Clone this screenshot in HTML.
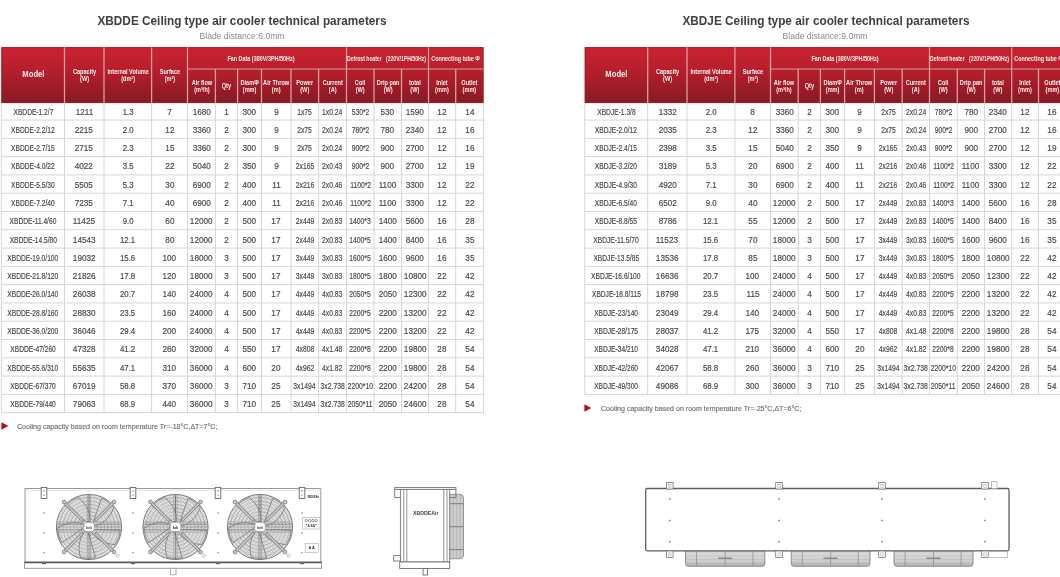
<!DOCTYPE html><html><head><meta charset="utf-8"><style>
*{margin:0;padding:0;box-sizing:border-box}
html,body{width:1060px;height:577px;overflow:hidden;background:#fff}
body{position:relative;font-family:"Liberation Sans",sans-serif}
#wrap{position:absolute;left:0;top:0;width:1060px;height:577px;overflow:hidden;background:#fff;will-change:transform}
.title{position:absolute;font-weight:bold;color:#404040;font-size:12.5px;transform:scaleX(0.9435);white-space:nowrap;text-align:center;line-height:1}
.sub{position:absolute;color:#8a8a8a;font-size:8.6px;white-space:nowrap;text-align:center;line-height:1}
.hc,.dc{position:absolute;display:flex;align-items:center;justify-content:center;text-align:center;white-space:nowrap}
.hc span{display:inline-block;color:#fbeeee;font-weight:bold;font-size:6.5px;line-height:7.2px;transform:scaleX(0.86)}
.hc.big span{font-size:8.6px;transform:translateY(-0.3px) scaleX(0.89)}
.hc.top span{font-size:6.8px}
.dc span{display:inline-block;color:#4a4a4a;font-size:8.8px;line-height:1;-webkit-text-stroke:0.18px #4a4a4a}
.dc.m span{transform:scaleX(0.74)}
.note{position:absolute;color:#727272;-webkit-text-stroke:0.15px #727272;font-size:7.07px;white-space:nowrap;line-height:1}
.tri{position:absolute;width:0;height:0;border-top:3.6px solid transparent;border-bottom:3.6px solid transparent;border-left:6.8px solid #c0181f}
</style></head><body><div id="wrap">
<div class="title" style="left:41.5px;top:15px;width:400px">XBDDE Ceiling type air cooler technical parameters</div>
<div class="sub" style="left:199px;top:31.5px;width:86px">Blade distance:6.0mm</div>
<div class="title" style="left:625.5px;top:15px;width:400px">XBDJE Ceiling type air cooler technical parameters</div>
<div class="sub" style="left:782px;top:31.5px;width:86px">Blade distance:9.0mm</div>
<svg class="grid" width="1060" height="577" style="position:absolute;left:0;top:0"><defs><linearGradient id="gL" x1="0" y1="0" x2="0" y2="1"><stop offset="0" stop-color="#cc2230"/><stop offset="0.45" stop-color="#b41e2c"/><stop offset="1" stop-color="#861a21"/></linearGradient></defs><line x1="1.4" y1="103" x2="483.5" y2="103" stroke="#d6d6d6" stroke-width="1"/><line x1="1.4" y1="120.05" x2="483.5" y2="120.05" stroke="#d6d6d6" stroke-width="1"/><line x1="1.4" y1="138.34" x2="483.5" y2="138.34" stroke="#d6d6d6" stroke-width="1"/><line x1="1.4" y1="156.63" x2="483.5" y2="156.63" stroke="#d6d6d6" stroke-width="1"/><line x1="1.4" y1="174.92" x2="483.5" y2="174.92" stroke="#d6d6d6" stroke-width="1"/><line x1="1.4" y1="193.21" x2="483.5" y2="193.21" stroke="#d6d6d6" stroke-width="1"/><line x1="1.4" y1="211.5" x2="483.5" y2="211.5" stroke="#d6d6d6" stroke-width="1"/><line x1="1.4" y1="229.79" x2="483.5" y2="229.79" stroke="#d6d6d6" stroke-width="1"/><line x1="1.4" y1="248.08" x2="483.5" y2="248.08" stroke="#d6d6d6" stroke-width="1"/><line x1="1.4" y1="266.37" x2="483.5" y2="266.37" stroke="#d6d6d6" stroke-width="1"/><line x1="1.4" y1="284.66" x2="483.5" y2="284.66" stroke="#d6d6d6" stroke-width="1"/><line x1="1.4" y1="302.95" x2="483.5" y2="302.95" stroke="#d6d6d6" stroke-width="1"/><line x1="1.4" y1="321.24" x2="483.5" y2="321.24" stroke="#d6d6d6" stroke-width="1"/><line x1="1.4" y1="339.53" x2="483.5" y2="339.53" stroke="#d6d6d6" stroke-width="1"/><line x1="1.4" y1="357.82" x2="483.5" y2="357.82" stroke="#d6d6d6" stroke-width="1"/><line x1="1.4" y1="376.11" x2="483.5" y2="376.11" stroke="#d6d6d6" stroke-width="1"/><line x1="1.4" y1="394.4" x2="483.5" y2="394.4" stroke="#d6d6d6" stroke-width="1"/><line x1="1.4" y1="412.69" x2="483.5" y2="412.69" stroke="#d6d6d6" stroke-width="1"/><line x1="1.4" y1="103" x2="1.4" y2="412.69" stroke="#d6d6d6" stroke-width="1"/><line x1="64.5" y1="103" x2="64.5" y2="412.69" stroke="#d6d6d6" stroke-width="1"/><line x1="104" y1="103" x2="104" y2="412.69" stroke="#d6d6d6" stroke-width="1"/><line x1="151.6" y1="103" x2="151.6" y2="412.69" stroke="#d6d6d6" stroke-width="1"/><line x1="187.5" y1="103" x2="187.5" y2="412.69" stroke="#d6d6d6" stroke-width="1"/><line x1="215.4" y1="103" x2="215.4" y2="412.69" stroke="#d6d6d6" stroke-width="1"/><line x1="237.6" y1="103" x2="237.6" y2="412.69" stroke="#d6d6d6" stroke-width="1"/><line x1="261.5" y1="103" x2="261.5" y2="412.69" stroke="#d6d6d6" stroke-width="1"/><line x1="291" y1="103" x2="291" y2="412.69" stroke="#d6d6d6" stroke-width="1"/><line x1="318.6" y1="103" x2="318.6" y2="412.69" stroke="#d6d6d6" stroke-width="1"/><line x1="346.5" y1="103" x2="346.5" y2="412.69" stroke="#d6d6d6" stroke-width="1"/><line x1="374" y1="103" x2="374" y2="412.69" stroke="#d6d6d6" stroke-width="1"/><line x1="401.5" y1="103" x2="401.5" y2="412.69" stroke="#d6d6d6" stroke-width="1"/><line x1="428.5" y1="103" x2="428.5" y2="412.69" stroke="#d6d6d6" stroke-width="1"/><line x1="455.7" y1="103" x2="455.7" y2="412.69" stroke="#d6d6d6" stroke-width="1"/><line x1="483.5" y1="103" x2="483.5" y2="412.69" stroke="#d6d6d6" stroke-width="1"/><rect x="1.4" y="47.2" width="482.1" height="55.8" fill="url(#gL)"/><rect x="1.9" y="47.7" width="481.1" height="54.8" fill="none" stroke="#a31c27" stroke-width="1"/><line x1="64.5" y1="47.2" x2="64.5" y2="103" stroke="#df9ba0" stroke-width="1.3"/><line x1="104" y1="47.2" x2="104" y2="103" stroke="#df9ba0" stroke-width="1.3"/><line x1="151.6" y1="47.2" x2="151.6" y2="103" stroke="#df9ba0" stroke-width="1.3"/><line x1="187.5" y1="47.2" x2="187.5" y2="103" stroke="#df9ba0" stroke-width="1.3"/><line x1="346.5" y1="47.2" x2="346.5" y2="103" stroke="#df9ba0" stroke-width="1.3"/><line x1="428.5" y1="47.2" x2="428.5" y2="103" stroke="#df9ba0" stroke-width="1.3"/><line x1="215.4" y1="69" x2="215.4" y2="103" stroke="#df9ba0" stroke-width="1.3"/><line x1="237.6" y1="69" x2="237.6" y2="103" stroke="#df9ba0" stroke-width="1.3"/><line x1="261.5" y1="69" x2="261.5" y2="103" stroke="#df9ba0" stroke-width="1.3"/><line x1="291" y1="69" x2="291" y2="103" stroke="#df9ba0" stroke-width="1.3"/><line x1="318.6" y1="69" x2="318.6" y2="103" stroke="#df9ba0" stroke-width="1.3"/><line x1="374" y1="69" x2="374" y2="103" stroke="#df9ba0" stroke-width="1.3"/><line x1="401.5" y1="69" x2="401.5" y2="103" stroke="#df9ba0" stroke-width="1.3"/><line x1="455.7" y1="69" x2="455.7" y2="103" stroke="#df9ba0" stroke-width="1.3"/><line x1="187.5" y1="69" x2="483.5" y2="69" stroke="#df9ba0" stroke-width="1"/></svg>
<div class="hc big" style="left:1.4px;top:47.2px;width:63.1px;height:55.8px"><span>Model</span></div>
<div class="hc" style="left:64.5px;top:47.2px;width:39.5px;height:55.8px"><span>Capacity<br>(W)</span></div>
<div class="hc" style="left:104px;top:47.2px;width:47.6px;height:55.8px"><span>Internal Volume<br>(dm³)</span></div>
<div class="hc" style="left:151.6px;top:47.2px;width:35.9px;height:55.8px"><span>Surface<br>(m²)</span></div>
<div class="hc top" style="left:181.8px;top:47.2px;width:159px;height:21.8px"><span style="transform:translateY(1px) scaleX(0.8)">Fan Data (380V/3PH/50Hz)</span></div>
<div class="hc top" style="left:345.5px;top:47.2px;width:82px;height:21.8px"><span style="transform:translateY(1px) scaleX(0.752)">Defrost heater&nbsp;&nbsp;&nbsp;(220V/1PH/50Hz)</span></div>
<div class="hc top" style="left:428px;top:47.2px;width:55px;height:21.8px"><span style="transform:translateY(1px) scaleX(0.794)">Connecting tube Φ</span></div>
<div class="hc" style="left:187.5px;top:69px;width:27.9px;height:34px"><span>Air flow<br>(m³/h)</span></div>
<div class="hc" style="left:215.4px;top:69px;width:22.2px;height:34px"><span>Qty</span></div>
<div class="hc" style="left:237.6px;top:69px;width:23.9px;height:34px"><span>DiamΦ<br>(mm)</span></div>
<div class="hc" style="left:261.5px;top:69px;width:29.5px;height:34px"><span>Air Throw<br>(m)</span></div>
<div class="hc" style="left:291px;top:69px;width:27.6px;height:34px"><span>Power<br>(W)</span></div>
<div class="hc" style="left:318.6px;top:69px;width:27.9px;height:34px"><span>Current<br>(A)</span></div>
<div class="hc" style="left:346.5px;top:69px;width:27.5px;height:34px"><span>Coil<br>(W)</span></div>
<div class="hc" style="left:374px;top:69px;width:27.5px;height:34px"><span>Drip pan<br>(W)</span></div>
<div class="hc" style="left:401.5px;top:69px;width:27px;height:34px"><span>total<br>(W)</span></div>
<div class="hc" style="left:428.5px;top:69px;width:27.2px;height:34px"><span>Inlet<br>(mm)</span></div>
<div class="hc" style="left:455.7px;top:69px;width:27.8px;height:34px"><span>Outlet<br>(mm)</span></div>
<div class="dc" style="left:1.4px;top:103px;width:63.1px;height:17.05px"><span style="transform:translateY(0.75px) scaleX(0.755)">XBDDE-1.2/7</span></div>
<div class="dc" style="left:64.5px;top:103px;width:39.5px;height:17.05px"><span style="transform:translateY(0.75px) scaleX(0.93)">1211</span></div>
<div class="dc" style="left:104px;top:103px;width:47.6px;height:17.05px"><span style="transform:translateY(0.75px) scaleX(0.89)">1.3</span></div>
<div class="dc" style="left:151.6px;top:103px;width:35.9px;height:17.05px"><span style="transform:translateY(0.75px) scaleX(0.93)">7</span></div>
<div class="dc" style="left:187.5px;top:103px;width:27.9px;height:17.05px"><span style="transform:translateY(0.75px) scaleX(0.93)">1680</span></div>
<div class="dc" style="left:215.4px;top:103px;width:22.2px;height:17.05px"><span style="transform:translateY(0.75px) scaleX(0.93)">1</span></div>
<div class="dc" style="left:237.6px;top:103px;width:23.9px;height:17.05px"><span style="transform:translateY(0.75px) scaleX(0.93)">300</span></div>
<div class="dc" style="left:261.5px;top:103px;width:29.5px;height:17.05px"><span style="transform:translateY(0.75px) scaleX(0.93)">9</span></div>
<div class="dc" style="left:291px;top:103px;width:27.6px;height:17.05px"><span style="transform:translateY(0.75px) scaleX(0.77)">1x75</span></div>
<div class="dc" style="left:318.6px;top:103px;width:27.9px;height:17.05px"><span style="transform:translateY(0.75px) scaleX(0.77)">1x0.24</span></div>
<div class="dc" style="left:346.5px;top:103px;width:27.5px;height:17.05px"><span style="transform:translateY(0.75px) scaleX(0.77)">530*2</span></div>
<div class="dc" style="left:374px;top:103px;width:27.5px;height:17.05px"><span style="transform:translateY(0.75px) scaleX(0.93)">530</span></div>
<div class="dc" style="left:401.5px;top:103px;width:27px;height:17.05px"><span style="transform:translateY(0.75px) scaleX(0.93)">1590</span></div>
<div class="dc" style="left:428.5px;top:103px;width:27.2px;height:17.05px"><span style="transform:translateY(0.75px) scaleX(0.93)">12</span></div>
<div class="dc" style="left:455.7px;top:103px;width:27.8px;height:17.05px"><span style="transform:translateY(0.75px) scaleX(0.93)">14</span></div>
<div class="dc" style="left:1.4px;top:120.05px;width:63.1px;height:18.29px"><span style="transform:translateY(0.75px) scaleX(0.755)">XBDDE-2.2/12</span></div>
<div class="dc" style="left:64.5px;top:120.05px;width:39.5px;height:18.29px"><span style="transform:translateY(0.75px) scaleX(0.93)">2215</span></div>
<div class="dc" style="left:104px;top:120.05px;width:47.6px;height:18.29px"><span style="transform:translateY(0.75px) scaleX(0.89)">2.0</span></div>
<div class="dc" style="left:151.6px;top:120.05px;width:35.9px;height:18.29px"><span style="transform:translateY(0.75px) scaleX(0.93)">12</span></div>
<div class="dc" style="left:187.5px;top:120.05px;width:27.9px;height:18.29px"><span style="transform:translateY(0.75px) scaleX(0.93)">3360</span></div>
<div class="dc" style="left:215.4px;top:120.05px;width:22.2px;height:18.29px"><span style="transform:translateY(0.75px) scaleX(0.93)">2</span></div>
<div class="dc" style="left:237.6px;top:120.05px;width:23.9px;height:18.29px"><span style="transform:translateY(0.75px) scaleX(0.93)">300</span></div>
<div class="dc" style="left:261.5px;top:120.05px;width:29.5px;height:18.29px"><span style="transform:translateY(0.75px) scaleX(0.93)">9</span></div>
<div class="dc" style="left:291px;top:120.05px;width:27.6px;height:18.29px"><span style="transform:translateY(0.75px) scaleX(0.77)">2x75</span></div>
<div class="dc" style="left:318.6px;top:120.05px;width:27.9px;height:18.29px"><span style="transform:translateY(0.75px) scaleX(0.77)">2x0.24</span></div>
<div class="dc" style="left:346.5px;top:120.05px;width:27.5px;height:18.29px"><span style="transform:translateY(0.75px) scaleX(0.77)">780*2</span></div>
<div class="dc" style="left:374px;top:120.05px;width:27.5px;height:18.29px"><span style="transform:translateY(0.75px) scaleX(0.93)">780</span></div>
<div class="dc" style="left:401.5px;top:120.05px;width:27px;height:18.29px"><span style="transform:translateY(0.75px) scaleX(0.93)">2340</span></div>
<div class="dc" style="left:428.5px;top:120.05px;width:27.2px;height:18.29px"><span style="transform:translateY(0.75px) scaleX(0.93)">12</span></div>
<div class="dc" style="left:455.7px;top:120.05px;width:27.8px;height:18.29px"><span style="transform:translateY(0.75px) scaleX(0.93)">16</span></div>
<div class="dc" style="left:1.4px;top:138.34px;width:63.1px;height:18.29px"><span style="transform:translateY(0.75px) scaleX(0.755)">XBDDE-2.7/15</span></div>
<div class="dc" style="left:64.5px;top:138.34px;width:39.5px;height:18.29px"><span style="transform:translateY(0.75px) scaleX(0.93)">2715</span></div>
<div class="dc" style="left:104px;top:138.34px;width:47.6px;height:18.29px"><span style="transform:translateY(0.75px) scaleX(0.89)">2.3</span></div>
<div class="dc" style="left:151.6px;top:138.34px;width:35.9px;height:18.29px"><span style="transform:translateY(0.75px) scaleX(0.93)">15</span></div>
<div class="dc" style="left:187.5px;top:138.34px;width:27.9px;height:18.29px"><span style="transform:translateY(0.75px) scaleX(0.93)">3360</span></div>
<div class="dc" style="left:215.4px;top:138.34px;width:22.2px;height:18.29px"><span style="transform:translateY(0.75px) scaleX(0.93)">2</span></div>
<div class="dc" style="left:237.6px;top:138.34px;width:23.9px;height:18.29px"><span style="transform:translateY(0.75px) scaleX(0.93)">300</span></div>
<div class="dc" style="left:261.5px;top:138.34px;width:29.5px;height:18.29px"><span style="transform:translateY(0.75px) scaleX(0.93)">9</span></div>
<div class="dc" style="left:291px;top:138.34px;width:27.6px;height:18.29px"><span style="transform:translateY(0.75px) scaleX(0.77)">2x75</span></div>
<div class="dc" style="left:318.6px;top:138.34px;width:27.9px;height:18.29px"><span style="transform:translateY(0.75px) scaleX(0.77)">2x0.24</span></div>
<div class="dc" style="left:346.5px;top:138.34px;width:27.5px;height:18.29px"><span style="transform:translateY(0.75px) scaleX(0.77)">900*2</span></div>
<div class="dc" style="left:374px;top:138.34px;width:27.5px;height:18.29px"><span style="transform:translateY(0.75px) scaleX(0.93)">900</span></div>
<div class="dc" style="left:401.5px;top:138.34px;width:27px;height:18.29px"><span style="transform:translateY(0.75px) scaleX(0.93)">2700</span></div>
<div class="dc" style="left:428.5px;top:138.34px;width:27.2px;height:18.29px"><span style="transform:translateY(0.75px) scaleX(0.93)">12</span></div>
<div class="dc" style="left:455.7px;top:138.34px;width:27.8px;height:18.29px"><span style="transform:translateY(0.75px) scaleX(0.93)">16</span></div>
<div class="dc" style="left:1.4px;top:156.63px;width:63.1px;height:18.29px"><span style="transform:translateY(0.75px) scaleX(0.755)">XBDDE-4.0/22</span></div>
<div class="dc" style="left:64.5px;top:156.63px;width:39.5px;height:18.29px"><span style="transform:translateY(0.75px) scaleX(0.93)">4022</span></div>
<div class="dc" style="left:104px;top:156.63px;width:47.6px;height:18.29px"><span style="transform:translateY(0.75px) scaleX(0.89)">3.5</span></div>
<div class="dc" style="left:151.6px;top:156.63px;width:35.9px;height:18.29px"><span style="transform:translateY(0.75px) scaleX(0.93)">22</span></div>
<div class="dc" style="left:187.5px;top:156.63px;width:27.9px;height:18.29px"><span style="transform:translateY(0.75px) scaleX(0.93)">5040</span></div>
<div class="dc" style="left:215.4px;top:156.63px;width:22.2px;height:18.29px"><span style="transform:translateY(0.75px) scaleX(0.93)">2</span></div>
<div class="dc" style="left:237.6px;top:156.63px;width:23.9px;height:18.29px"><span style="transform:translateY(0.75px) scaleX(0.93)">350</span></div>
<div class="dc" style="left:261.5px;top:156.63px;width:29.5px;height:18.29px"><span style="transform:translateY(0.75px) scaleX(0.93)">9</span></div>
<div class="dc" style="left:291px;top:156.63px;width:27.6px;height:18.29px"><span style="transform:translateY(0.75px) scaleX(0.77)">2x165</span></div>
<div class="dc" style="left:318.6px;top:156.63px;width:27.9px;height:18.29px"><span style="transform:translateY(0.75px) scaleX(0.77)">2x0.43</span></div>
<div class="dc" style="left:346.5px;top:156.63px;width:27.5px;height:18.29px"><span style="transform:translateY(0.75px) scaleX(0.77)">900*2</span></div>
<div class="dc" style="left:374px;top:156.63px;width:27.5px;height:18.29px"><span style="transform:translateY(0.75px) scaleX(0.93)">900</span></div>
<div class="dc" style="left:401.5px;top:156.63px;width:27px;height:18.29px"><span style="transform:translateY(0.75px) scaleX(0.93)">2700</span></div>
<div class="dc" style="left:428.5px;top:156.63px;width:27.2px;height:18.29px"><span style="transform:translateY(0.75px) scaleX(0.93)">12</span></div>
<div class="dc" style="left:455.7px;top:156.63px;width:27.8px;height:18.29px"><span style="transform:translateY(0.75px) scaleX(0.93)">19</span></div>
<div class="dc" style="left:1.4px;top:174.92px;width:63.1px;height:18.29px"><span style="transform:translateY(0.75px) scaleX(0.755)">XBDDE-5.5/30</span></div>
<div class="dc" style="left:64.5px;top:174.92px;width:39.5px;height:18.29px"><span style="transform:translateY(0.75px) scaleX(0.93)">5505</span></div>
<div class="dc" style="left:104px;top:174.92px;width:47.6px;height:18.29px"><span style="transform:translateY(0.75px) scaleX(0.89)">5.3</span></div>
<div class="dc" style="left:151.6px;top:174.92px;width:35.9px;height:18.29px"><span style="transform:translateY(0.75px) scaleX(0.93)">30</span></div>
<div class="dc" style="left:187.5px;top:174.92px;width:27.9px;height:18.29px"><span style="transform:translateY(0.75px) scaleX(0.93)">6900</span></div>
<div class="dc" style="left:215.4px;top:174.92px;width:22.2px;height:18.29px"><span style="transform:translateY(0.75px) scaleX(0.93)">2</span></div>
<div class="dc" style="left:237.6px;top:174.92px;width:23.9px;height:18.29px"><span style="transform:translateY(0.75px) scaleX(0.93)">400</span></div>
<div class="dc" style="left:261.5px;top:174.92px;width:29.5px;height:18.29px"><span style="transform:translateY(0.75px) scaleX(0.93)">11</span></div>
<div class="dc" style="left:291px;top:174.92px;width:27.6px;height:18.29px"><span style="transform:translateY(0.75px) scaleX(0.77)">2x216</span></div>
<div class="dc" style="left:318.6px;top:174.92px;width:27.9px;height:18.29px"><span style="transform:translateY(0.75px) scaleX(0.77)">2x0.46</span></div>
<div class="dc" style="left:346.5px;top:174.92px;width:27.5px;height:18.29px"><span style="transform:translateY(0.75px) scaleX(0.77)">1100*2</span></div>
<div class="dc" style="left:374px;top:174.92px;width:27.5px;height:18.29px"><span style="transform:translateY(0.75px) scaleX(0.93)">1100</span></div>
<div class="dc" style="left:401.5px;top:174.92px;width:27px;height:18.29px"><span style="transform:translateY(0.75px) scaleX(0.93)">3300</span></div>
<div class="dc" style="left:428.5px;top:174.92px;width:27.2px;height:18.29px"><span style="transform:translateY(0.75px) scaleX(0.93)">12</span></div>
<div class="dc" style="left:455.7px;top:174.92px;width:27.8px;height:18.29px"><span style="transform:translateY(0.75px) scaleX(0.93)">22</span></div>
<div class="dc" style="left:1.4px;top:193.21px;width:63.1px;height:18.29px"><span style="transform:translateY(0.75px) scaleX(0.755)">XBDDE-7.2/40</span></div>
<div class="dc" style="left:64.5px;top:193.21px;width:39.5px;height:18.29px"><span style="transform:translateY(0.75px) scaleX(0.93)">7235</span></div>
<div class="dc" style="left:104px;top:193.21px;width:47.6px;height:18.29px"><span style="transform:translateY(0.75px) scaleX(0.89)">7.1</span></div>
<div class="dc" style="left:151.6px;top:193.21px;width:35.9px;height:18.29px"><span style="transform:translateY(0.75px) scaleX(0.93)">40</span></div>
<div class="dc" style="left:187.5px;top:193.21px;width:27.9px;height:18.29px"><span style="transform:translateY(0.75px) scaleX(0.93)">6900</span></div>
<div class="dc" style="left:215.4px;top:193.21px;width:22.2px;height:18.29px"><span style="transform:translateY(0.75px) scaleX(0.93)">2</span></div>
<div class="dc" style="left:237.6px;top:193.21px;width:23.9px;height:18.29px"><span style="transform:translateY(0.75px) scaleX(0.93)">400</span></div>
<div class="dc" style="left:261.5px;top:193.21px;width:29.5px;height:18.29px"><span style="transform:translateY(0.75px) scaleX(0.93)">11</span></div>
<div class="dc" style="left:291px;top:193.21px;width:27.6px;height:18.29px"><span style="transform:translateY(0.75px) scaleX(0.77)">2x216</span></div>
<div class="dc" style="left:318.6px;top:193.21px;width:27.9px;height:18.29px"><span style="transform:translateY(0.75px) scaleX(0.77)">2x0.46</span></div>
<div class="dc" style="left:346.5px;top:193.21px;width:27.5px;height:18.29px"><span style="transform:translateY(0.75px) scaleX(0.77)">1100*2</span></div>
<div class="dc" style="left:374px;top:193.21px;width:27.5px;height:18.29px"><span style="transform:translateY(0.75px) scaleX(0.93)">1100</span></div>
<div class="dc" style="left:401.5px;top:193.21px;width:27px;height:18.29px"><span style="transform:translateY(0.75px) scaleX(0.93)">3300</span></div>
<div class="dc" style="left:428.5px;top:193.21px;width:27.2px;height:18.29px"><span style="transform:translateY(0.75px) scaleX(0.93)">12</span></div>
<div class="dc" style="left:455.7px;top:193.21px;width:27.8px;height:18.29px"><span style="transform:translateY(0.75px) scaleX(0.93)">22</span></div>
<div class="dc" style="left:1.4px;top:211.5px;width:63.1px;height:18.29px"><span style="transform:translateY(0.75px) scaleX(0.755)">XBDDE-11.4/60</span></div>
<div class="dc" style="left:64.5px;top:211.5px;width:39.5px;height:18.29px"><span style="transform:translateY(0.75px) scaleX(0.93)">11425</span></div>
<div class="dc" style="left:104px;top:211.5px;width:47.6px;height:18.29px"><span style="transform:translateY(0.75px) scaleX(0.89)">9.0</span></div>
<div class="dc" style="left:151.6px;top:211.5px;width:35.9px;height:18.29px"><span style="transform:translateY(0.75px) scaleX(0.93)">60</span></div>
<div class="dc" style="left:187.5px;top:211.5px;width:27.9px;height:18.29px"><span style="transform:translateY(0.75px) scaleX(0.93)">12000</span></div>
<div class="dc" style="left:215.4px;top:211.5px;width:22.2px;height:18.29px"><span style="transform:translateY(0.75px) scaleX(0.93)">2</span></div>
<div class="dc" style="left:237.6px;top:211.5px;width:23.9px;height:18.29px"><span style="transform:translateY(0.75px) scaleX(0.93)">500</span></div>
<div class="dc" style="left:261.5px;top:211.5px;width:29.5px;height:18.29px"><span style="transform:translateY(0.75px) scaleX(0.93)">17</span></div>
<div class="dc" style="left:291px;top:211.5px;width:27.6px;height:18.29px"><span style="transform:translateY(0.75px) scaleX(0.77)">2x449</span></div>
<div class="dc" style="left:318.6px;top:211.5px;width:27.9px;height:18.29px"><span style="transform:translateY(0.75px) scaleX(0.77)">2x0.83</span></div>
<div class="dc" style="left:346.5px;top:211.5px;width:27.5px;height:18.29px"><span style="transform:translateY(0.75px) scaleX(0.77)">1400*3</span></div>
<div class="dc" style="left:374px;top:211.5px;width:27.5px;height:18.29px"><span style="transform:translateY(0.75px) scaleX(0.93)">1400</span></div>
<div class="dc" style="left:401.5px;top:211.5px;width:27px;height:18.29px"><span style="transform:translateY(0.75px) scaleX(0.93)">5600</span></div>
<div class="dc" style="left:428.5px;top:211.5px;width:27.2px;height:18.29px"><span style="transform:translateY(0.75px) scaleX(0.93)">16</span></div>
<div class="dc" style="left:455.7px;top:211.5px;width:27.8px;height:18.29px"><span style="transform:translateY(0.75px) scaleX(0.93)">28</span></div>
<div class="dc" style="left:1.4px;top:229.79px;width:63.1px;height:18.29px"><span style="transform:translateY(0.75px) scaleX(0.755)">XBDDE-14.5/80</span></div>
<div class="dc" style="left:64.5px;top:229.79px;width:39.5px;height:18.29px"><span style="transform:translateY(0.75px) scaleX(0.93)">14543</span></div>
<div class="dc" style="left:104px;top:229.79px;width:47.6px;height:18.29px"><span style="transform:translateY(0.75px) scaleX(0.89)">12.1</span></div>
<div class="dc" style="left:151.6px;top:229.79px;width:35.9px;height:18.29px"><span style="transform:translateY(0.75px) scaleX(0.93)">80</span></div>
<div class="dc" style="left:187.5px;top:229.79px;width:27.9px;height:18.29px"><span style="transform:translateY(0.75px) scaleX(0.93)">12000</span></div>
<div class="dc" style="left:215.4px;top:229.79px;width:22.2px;height:18.29px"><span style="transform:translateY(0.75px) scaleX(0.93)">2</span></div>
<div class="dc" style="left:237.6px;top:229.79px;width:23.9px;height:18.29px"><span style="transform:translateY(0.75px) scaleX(0.93)">500</span></div>
<div class="dc" style="left:261.5px;top:229.79px;width:29.5px;height:18.29px"><span style="transform:translateY(0.75px) scaleX(0.93)">17</span></div>
<div class="dc" style="left:291px;top:229.79px;width:27.6px;height:18.29px"><span style="transform:translateY(0.75px) scaleX(0.77)">2x449</span></div>
<div class="dc" style="left:318.6px;top:229.79px;width:27.9px;height:18.29px"><span style="transform:translateY(0.75px) scaleX(0.77)">2x0.83</span></div>
<div class="dc" style="left:346.5px;top:229.79px;width:27.5px;height:18.29px"><span style="transform:translateY(0.75px) scaleX(0.77)">1400*5</span></div>
<div class="dc" style="left:374px;top:229.79px;width:27.5px;height:18.29px"><span style="transform:translateY(0.75px) scaleX(0.93)">1400</span></div>
<div class="dc" style="left:401.5px;top:229.79px;width:27px;height:18.29px"><span style="transform:translateY(0.75px) scaleX(0.93)">8400</span></div>
<div class="dc" style="left:428.5px;top:229.79px;width:27.2px;height:18.29px"><span style="transform:translateY(0.75px) scaleX(0.93)">16</span></div>
<div class="dc" style="left:455.7px;top:229.79px;width:27.8px;height:18.29px"><span style="transform:translateY(0.75px) scaleX(0.93)">35</span></div>
<div class="dc" style="left:1.4px;top:248.08px;width:63.1px;height:18.29px"><span style="transform:translateY(0.75px) scaleX(0.755)">XBDDE-19.0/100</span></div>
<div class="dc" style="left:64.5px;top:248.08px;width:39.5px;height:18.29px"><span style="transform:translateY(0.75px) scaleX(0.93)">19032</span></div>
<div class="dc" style="left:104px;top:248.08px;width:47.6px;height:18.29px"><span style="transform:translateY(0.75px) scaleX(0.89)">15.6</span></div>
<div class="dc" style="left:151.6px;top:248.08px;width:35.9px;height:18.29px"><span style="transform:translateY(0.75px) scaleX(0.93)">100</span></div>
<div class="dc" style="left:187.5px;top:248.08px;width:27.9px;height:18.29px"><span style="transform:translateY(0.75px) scaleX(0.93)">18000</span></div>
<div class="dc" style="left:215.4px;top:248.08px;width:22.2px;height:18.29px"><span style="transform:translateY(0.75px) scaleX(0.93)">3</span></div>
<div class="dc" style="left:237.6px;top:248.08px;width:23.9px;height:18.29px"><span style="transform:translateY(0.75px) scaleX(0.93)">500</span></div>
<div class="dc" style="left:261.5px;top:248.08px;width:29.5px;height:18.29px"><span style="transform:translateY(0.75px) scaleX(0.93)">17</span></div>
<div class="dc" style="left:291px;top:248.08px;width:27.6px;height:18.29px"><span style="transform:translateY(0.75px) scaleX(0.77)">3x449</span></div>
<div class="dc" style="left:318.6px;top:248.08px;width:27.9px;height:18.29px"><span style="transform:translateY(0.75px) scaleX(0.77)">3x0.83</span></div>
<div class="dc" style="left:346.5px;top:248.08px;width:27.5px;height:18.29px"><span style="transform:translateY(0.75px) scaleX(0.77)">1600*5</span></div>
<div class="dc" style="left:374px;top:248.08px;width:27.5px;height:18.29px"><span style="transform:translateY(0.75px) scaleX(0.93)">1600</span></div>
<div class="dc" style="left:401.5px;top:248.08px;width:27px;height:18.29px"><span style="transform:translateY(0.75px) scaleX(0.93)">9600</span></div>
<div class="dc" style="left:428.5px;top:248.08px;width:27.2px;height:18.29px"><span style="transform:translateY(0.75px) scaleX(0.93)">16</span></div>
<div class="dc" style="left:455.7px;top:248.08px;width:27.8px;height:18.29px"><span style="transform:translateY(0.75px) scaleX(0.93)">35</span></div>
<div class="dc" style="left:1.4px;top:266.37px;width:63.1px;height:18.29px"><span style="transform:translateY(0.75px) scaleX(0.755)">XBDDE-21.8/120</span></div>
<div class="dc" style="left:64.5px;top:266.37px;width:39.5px;height:18.29px"><span style="transform:translateY(0.75px) scaleX(0.93)">21826</span></div>
<div class="dc" style="left:104px;top:266.37px;width:47.6px;height:18.29px"><span style="transform:translateY(0.75px) scaleX(0.89)">17.8</span></div>
<div class="dc" style="left:151.6px;top:266.37px;width:35.9px;height:18.29px"><span style="transform:translateY(0.75px) scaleX(0.93)">120</span></div>
<div class="dc" style="left:187.5px;top:266.37px;width:27.9px;height:18.29px"><span style="transform:translateY(0.75px) scaleX(0.93)">18000</span></div>
<div class="dc" style="left:215.4px;top:266.37px;width:22.2px;height:18.29px"><span style="transform:translateY(0.75px) scaleX(0.93)">3</span></div>
<div class="dc" style="left:237.6px;top:266.37px;width:23.9px;height:18.29px"><span style="transform:translateY(0.75px) scaleX(0.93)">500</span></div>
<div class="dc" style="left:261.5px;top:266.37px;width:29.5px;height:18.29px"><span style="transform:translateY(0.75px) scaleX(0.93)">17</span></div>
<div class="dc" style="left:291px;top:266.37px;width:27.6px;height:18.29px"><span style="transform:translateY(0.75px) scaleX(0.77)">3x449</span></div>
<div class="dc" style="left:318.6px;top:266.37px;width:27.9px;height:18.29px"><span style="transform:translateY(0.75px) scaleX(0.77)">3x0.83</span></div>
<div class="dc" style="left:346.5px;top:266.37px;width:27.5px;height:18.29px"><span style="transform:translateY(0.75px) scaleX(0.77)">1800*5</span></div>
<div class="dc" style="left:374px;top:266.37px;width:27.5px;height:18.29px"><span style="transform:translateY(0.75px) scaleX(0.93)">1800</span></div>
<div class="dc" style="left:401.5px;top:266.37px;width:27px;height:18.29px"><span style="transform:translateY(0.75px) scaleX(0.93)">10800</span></div>
<div class="dc" style="left:428.5px;top:266.37px;width:27.2px;height:18.29px"><span style="transform:translateY(0.75px) scaleX(0.93)">22</span></div>
<div class="dc" style="left:455.7px;top:266.37px;width:27.8px;height:18.29px"><span style="transform:translateY(0.75px) scaleX(0.93)">42</span></div>
<div class="dc" style="left:1.4px;top:284.66px;width:63.1px;height:18.29px"><span style="transform:translateY(0.75px) scaleX(0.755)">XBDDE-26.0/140</span></div>
<div class="dc" style="left:64.5px;top:284.66px;width:39.5px;height:18.29px"><span style="transform:translateY(0.75px) scaleX(0.93)">26038</span></div>
<div class="dc" style="left:104px;top:284.66px;width:47.6px;height:18.29px"><span style="transform:translateY(0.75px) scaleX(0.89)">20.7</span></div>
<div class="dc" style="left:151.6px;top:284.66px;width:35.9px;height:18.29px"><span style="transform:translateY(0.75px) scaleX(0.93)">140</span></div>
<div class="dc" style="left:187.5px;top:284.66px;width:27.9px;height:18.29px"><span style="transform:translateY(0.75px) scaleX(0.93)">24000</span></div>
<div class="dc" style="left:215.4px;top:284.66px;width:22.2px;height:18.29px"><span style="transform:translateY(0.75px) scaleX(0.93)">4</span></div>
<div class="dc" style="left:237.6px;top:284.66px;width:23.9px;height:18.29px"><span style="transform:translateY(0.75px) scaleX(0.93)">500</span></div>
<div class="dc" style="left:261.5px;top:284.66px;width:29.5px;height:18.29px"><span style="transform:translateY(0.75px) scaleX(0.93)">17</span></div>
<div class="dc" style="left:291px;top:284.66px;width:27.6px;height:18.29px"><span style="transform:translateY(0.75px) scaleX(0.77)">4x449</span></div>
<div class="dc" style="left:318.6px;top:284.66px;width:27.9px;height:18.29px"><span style="transform:translateY(0.75px) scaleX(0.77)">4x0.83</span></div>
<div class="dc" style="left:346.5px;top:284.66px;width:27.5px;height:18.29px"><span style="transform:translateY(0.75px) scaleX(0.77)">2050*5</span></div>
<div class="dc" style="left:374px;top:284.66px;width:27.5px;height:18.29px"><span style="transform:translateY(0.75px) scaleX(0.93)">2050</span></div>
<div class="dc" style="left:401.5px;top:284.66px;width:27px;height:18.29px"><span style="transform:translateY(0.75px) scaleX(0.93)">12300</span></div>
<div class="dc" style="left:428.5px;top:284.66px;width:27.2px;height:18.29px"><span style="transform:translateY(0.75px) scaleX(0.93)">22</span></div>
<div class="dc" style="left:455.7px;top:284.66px;width:27.8px;height:18.29px"><span style="transform:translateY(0.75px) scaleX(0.93)">42</span></div>
<div class="dc" style="left:1.4px;top:302.95px;width:63.1px;height:18.29px"><span style="transform:translateY(0.75px) scaleX(0.755)">XBDDE-28.8/160</span></div>
<div class="dc" style="left:64.5px;top:302.95px;width:39.5px;height:18.29px"><span style="transform:translateY(0.75px) scaleX(0.93)">28830</span></div>
<div class="dc" style="left:104px;top:302.95px;width:47.6px;height:18.29px"><span style="transform:translateY(0.75px) scaleX(0.89)">23.5</span></div>
<div class="dc" style="left:151.6px;top:302.95px;width:35.9px;height:18.29px"><span style="transform:translateY(0.75px) scaleX(0.93)">160</span></div>
<div class="dc" style="left:187.5px;top:302.95px;width:27.9px;height:18.29px"><span style="transform:translateY(0.75px) scaleX(0.93)">24000</span></div>
<div class="dc" style="left:215.4px;top:302.95px;width:22.2px;height:18.29px"><span style="transform:translateY(0.75px) scaleX(0.93)">4</span></div>
<div class="dc" style="left:237.6px;top:302.95px;width:23.9px;height:18.29px"><span style="transform:translateY(0.75px) scaleX(0.93)">500</span></div>
<div class="dc" style="left:261.5px;top:302.95px;width:29.5px;height:18.29px"><span style="transform:translateY(0.75px) scaleX(0.93)">17</span></div>
<div class="dc" style="left:291px;top:302.95px;width:27.6px;height:18.29px"><span style="transform:translateY(0.75px) scaleX(0.77)">4x449</span></div>
<div class="dc" style="left:318.6px;top:302.95px;width:27.9px;height:18.29px"><span style="transform:translateY(0.75px) scaleX(0.77)">4x0.83</span></div>
<div class="dc" style="left:346.5px;top:302.95px;width:27.5px;height:18.29px"><span style="transform:translateY(0.75px) scaleX(0.77)">2200*5</span></div>
<div class="dc" style="left:374px;top:302.95px;width:27.5px;height:18.29px"><span style="transform:translateY(0.75px) scaleX(0.93)">2200</span></div>
<div class="dc" style="left:401.5px;top:302.95px;width:27px;height:18.29px"><span style="transform:translateY(0.75px) scaleX(0.93)">13200</span></div>
<div class="dc" style="left:428.5px;top:302.95px;width:27.2px;height:18.29px"><span style="transform:translateY(0.75px) scaleX(0.93)">22</span></div>
<div class="dc" style="left:455.7px;top:302.95px;width:27.8px;height:18.29px"><span style="transform:translateY(0.75px) scaleX(0.93)">42</span></div>
<div class="dc" style="left:1.4px;top:321.24px;width:63.1px;height:18.29px"><span style="transform:translateY(0.75px) scaleX(0.755)">XBDDE-36.0/200</span></div>
<div class="dc" style="left:64.5px;top:321.24px;width:39.5px;height:18.29px"><span style="transform:translateY(0.75px) scaleX(0.93)">36046</span></div>
<div class="dc" style="left:104px;top:321.24px;width:47.6px;height:18.29px"><span style="transform:translateY(0.75px) scaleX(0.89)">29.4</span></div>
<div class="dc" style="left:151.6px;top:321.24px;width:35.9px;height:18.29px"><span style="transform:translateY(0.75px) scaleX(0.93)">200</span></div>
<div class="dc" style="left:187.5px;top:321.24px;width:27.9px;height:18.29px"><span style="transform:translateY(0.75px) scaleX(0.93)">24000</span></div>
<div class="dc" style="left:215.4px;top:321.24px;width:22.2px;height:18.29px"><span style="transform:translateY(0.75px) scaleX(0.93)">4</span></div>
<div class="dc" style="left:237.6px;top:321.24px;width:23.9px;height:18.29px"><span style="transform:translateY(0.75px) scaleX(0.93)">500</span></div>
<div class="dc" style="left:261.5px;top:321.24px;width:29.5px;height:18.29px"><span style="transform:translateY(0.75px) scaleX(0.93)">17</span></div>
<div class="dc" style="left:291px;top:321.24px;width:27.6px;height:18.29px"><span style="transform:translateY(0.75px) scaleX(0.77)">4x449</span></div>
<div class="dc" style="left:318.6px;top:321.24px;width:27.9px;height:18.29px"><span style="transform:translateY(0.75px) scaleX(0.77)">4x0.83</span></div>
<div class="dc" style="left:346.5px;top:321.24px;width:27.5px;height:18.29px"><span style="transform:translateY(0.75px) scaleX(0.77)">2200*5</span></div>
<div class="dc" style="left:374px;top:321.24px;width:27.5px;height:18.29px"><span style="transform:translateY(0.75px) scaleX(0.93)">2200</span></div>
<div class="dc" style="left:401.5px;top:321.24px;width:27px;height:18.29px"><span style="transform:translateY(0.75px) scaleX(0.93)">13200</span></div>
<div class="dc" style="left:428.5px;top:321.24px;width:27.2px;height:18.29px"><span style="transform:translateY(0.75px) scaleX(0.93)">22</span></div>
<div class="dc" style="left:455.7px;top:321.24px;width:27.8px;height:18.29px"><span style="transform:translateY(0.75px) scaleX(0.93)">42</span></div>
<div class="dc" style="left:1.4px;top:339.53px;width:63.1px;height:18.29px"><span style="transform:translateY(0.75px) scaleX(0.755)">XBDDE-47/260</span></div>
<div class="dc" style="left:64.5px;top:339.53px;width:39.5px;height:18.29px"><span style="transform:translateY(0.75px) scaleX(0.93)">47328</span></div>
<div class="dc" style="left:104px;top:339.53px;width:47.6px;height:18.29px"><span style="transform:translateY(0.75px) scaleX(0.89)">41.2</span></div>
<div class="dc" style="left:151.6px;top:339.53px;width:35.9px;height:18.29px"><span style="transform:translateY(0.75px) scaleX(0.93)">260</span></div>
<div class="dc" style="left:187.5px;top:339.53px;width:27.9px;height:18.29px"><span style="transform:translateY(0.75px) scaleX(0.93)">32000</span></div>
<div class="dc" style="left:215.4px;top:339.53px;width:22.2px;height:18.29px"><span style="transform:translateY(0.75px) scaleX(0.93)">4</span></div>
<div class="dc" style="left:237.6px;top:339.53px;width:23.9px;height:18.29px"><span style="transform:translateY(0.75px) scaleX(0.93)">550</span></div>
<div class="dc" style="left:261.5px;top:339.53px;width:29.5px;height:18.29px"><span style="transform:translateY(0.75px) scaleX(0.93)">17</span></div>
<div class="dc" style="left:291px;top:339.53px;width:27.6px;height:18.29px"><span style="transform:translateY(0.75px) scaleX(0.77)">4x808</span></div>
<div class="dc" style="left:318.6px;top:339.53px;width:27.9px;height:18.29px"><span style="transform:translateY(0.75px) scaleX(0.77)">4x1.48</span></div>
<div class="dc" style="left:346.5px;top:339.53px;width:27.5px;height:18.29px"><span style="transform:translateY(0.75px) scaleX(0.77)">2200*8</span></div>
<div class="dc" style="left:374px;top:339.53px;width:27.5px;height:18.29px"><span style="transform:translateY(0.75px) scaleX(0.93)">2200</span></div>
<div class="dc" style="left:401.5px;top:339.53px;width:27px;height:18.29px"><span style="transform:translateY(0.75px) scaleX(0.93)">19800</span></div>
<div class="dc" style="left:428.5px;top:339.53px;width:27.2px;height:18.29px"><span style="transform:translateY(0.75px) scaleX(0.93)">28</span></div>
<div class="dc" style="left:455.7px;top:339.53px;width:27.8px;height:18.29px"><span style="transform:translateY(0.75px) scaleX(0.93)">54</span></div>
<div class="dc" style="left:1.4px;top:357.82px;width:63.1px;height:18.29px"><span style="transform:translateY(0.75px) scaleX(0.755)">XBDDE-55.6/310</span></div>
<div class="dc" style="left:64.5px;top:357.82px;width:39.5px;height:18.29px"><span style="transform:translateY(0.75px) scaleX(0.93)">55635</span></div>
<div class="dc" style="left:104px;top:357.82px;width:47.6px;height:18.29px"><span style="transform:translateY(0.75px) scaleX(0.89)">47.1</span></div>
<div class="dc" style="left:151.6px;top:357.82px;width:35.9px;height:18.29px"><span style="transform:translateY(0.75px) scaleX(0.93)">310</span></div>
<div class="dc" style="left:187.5px;top:357.82px;width:27.9px;height:18.29px"><span style="transform:translateY(0.75px) scaleX(0.93)">36000</span></div>
<div class="dc" style="left:215.4px;top:357.82px;width:22.2px;height:18.29px"><span style="transform:translateY(0.75px) scaleX(0.93)">4</span></div>
<div class="dc" style="left:237.6px;top:357.82px;width:23.9px;height:18.29px"><span style="transform:translateY(0.75px) scaleX(0.93)">600</span></div>
<div class="dc" style="left:261.5px;top:357.82px;width:29.5px;height:18.29px"><span style="transform:translateY(0.75px) scaleX(0.93)">20</span></div>
<div class="dc" style="left:291px;top:357.82px;width:27.6px;height:18.29px"><span style="transform:translateY(0.75px) scaleX(0.77)">4x962</span></div>
<div class="dc" style="left:318.6px;top:357.82px;width:27.9px;height:18.29px"><span style="transform:translateY(0.75px) scaleX(0.77)">4x1.82</span></div>
<div class="dc" style="left:346.5px;top:357.82px;width:27.5px;height:18.29px"><span style="transform:translateY(0.75px) scaleX(0.77)">2200*8</span></div>
<div class="dc" style="left:374px;top:357.82px;width:27.5px;height:18.29px"><span style="transform:translateY(0.75px) scaleX(0.93)">2200</span></div>
<div class="dc" style="left:401.5px;top:357.82px;width:27px;height:18.29px"><span style="transform:translateY(0.75px) scaleX(0.93)">19800</span></div>
<div class="dc" style="left:428.5px;top:357.82px;width:27.2px;height:18.29px"><span style="transform:translateY(0.75px) scaleX(0.93)">28</span></div>
<div class="dc" style="left:455.7px;top:357.82px;width:27.8px;height:18.29px"><span style="transform:translateY(0.75px) scaleX(0.93)">54</span></div>
<div class="dc" style="left:1.4px;top:376.11px;width:63.1px;height:18.29px"><span style="transform:translateY(0.75px) scaleX(0.755)">XBDDE-67/370</span></div>
<div class="dc" style="left:64.5px;top:376.11px;width:39.5px;height:18.29px"><span style="transform:translateY(0.75px) scaleX(0.93)">67019</span></div>
<div class="dc" style="left:104px;top:376.11px;width:47.6px;height:18.29px"><span style="transform:translateY(0.75px) scaleX(0.89)">58.8</span></div>
<div class="dc" style="left:151.6px;top:376.11px;width:35.9px;height:18.29px"><span style="transform:translateY(0.75px) scaleX(0.93)">370</span></div>
<div class="dc" style="left:187.5px;top:376.11px;width:27.9px;height:18.29px"><span style="transform:translateY(0.75px) scaleX(0.93)">36000</span></div>
<div class="dc" style="left:215.4px;top:376.11px;width:22.2px;height:18.29px"><span style="transform:translateY(0.75px) scaleX(0.93)">3</span></div>
<div class="dc" style="left:237.6px;top:376.11px;width:23.9px;height:18.29px"><span style="transform:translateY(0.75px) scaleX(0.93)">710</span></div>
<div class="dc" style="left:261.5px;top:376.11px;width:29.5px;height:18.29px"><span style="transform:translateY(0.75px) scaleX(0.93)">25</span></div>
<div class="dc" style="left:291px;top:376.11px;width:27.6px;height:18.29px"><span style="transform:translateY(0.75px) scaleX(0.77)">3x1494</span></div>
<div class="dc" style="left:318.6px;top:376.11px;width:27.9px;height:18.29px"><span style="transform:translateY(0.75px) scaleX(0.77)">3x2.738</span></div>
<div class="dc" style="left:346.5px;top:376.11px;width:27.5px;height:18.29px"><span style="transform:translateY(0.75px) scaleX(0.77)">2200*10</span></div>
<div class="dc" style="left:374px;top:376.11px;width:27.5px;height:18.29px"><span style="transform:translateY(0.75px) scaleX(0.93)">2200</span></div>
<div class="dc" style="left:401.5px;top:376.11px;width:27px;height:18.29px"><span style="transform:translateY(0.75px) scaleX(0.93)">24200</span></div>
<div class="dc" style="left:428.5px;top:376.11px;width:27.2px;height:18.29px"><span style="transform:translateY(0.75px) scaleX(0.93)">28</span></div>
<div class="dc" style="left:455.7px;top:376.11px;width:27.8px;height:18.29px"><span style="transform:translateY(0.75px) scaleX(0.93)">54</span></div>
<div class="dc" style="left:1.4px;top:394.4px;width:63.1px;height:18.29px"><span style="transform:translateY(0.75px) scaleX(0.755)">XBDDE-79/440</span></div>
<div class="dc" style="left:64.5px;top:394.4px;width:39.5px;height:18.29px"><span style="transform:translateY(0.75px) scaleX(0.93)">79063</span></div>
<div class="dc" style="left:104px;top:394.4px;width:47.6px;height:18.29px"><span style="transform:translateY(0.75px) scaleX(0.89)">68.9</span></div>
<div class="dc" style="left:151.6px;top:394.4px;width:35.9px;height:18.29px"><span style="transform:translateY(0.75px) scaleX(0.93)">440</span></div>
<div class="dc" style="left:187.5px;top:394.4px;width:27.9px;height:18.29px"><span style="transform:translateY(0.75px) scaleX(0.93)">36000</span></div>
<div class="dc" style="left:215.4px;top:394.4px;width:22.2px;height:18.29px"><span style="transform:translateY(0.75px) scaleX(0.93)">3</span></div>
<div class="dc" style="left:237.6px;top:394.4px;width:23.9px;height:18.29px"><span style="transform:translateY(0.75px) scaleX(0.93)">710</span></div>
<div class="dc" style="left:261.5px;top:394.4px;width:29.5px;height:18.29px"><span style="transform:translateY(0.75px) scaleX(0.93)">25</span></div>
<div class="dc" style="left:291px;top:394.4px;width:27.6px;height:18.29px"><span style="transform:translateY(0.75px) scaleX(0.77)">3x1494</span></div>
<div class="dc" style="left:318.6px;top:394.4px;width:27.9px;height:18.29px"><span style="transform:translateY(0.75px) scaleX(0.77)">3x2.738</span></div>
<div class="dc" style="left:346.5px;top:394.4px;width:27.5px;height:18.29px"><span style="transform:translateY(0.75px) scaleX(0.77)">2050*11</span></div>
<div class="dc" style="left:374px;top:394.4px;width:27.5px;height:18.29px"><span style="transform:translateY(0.75px) scaleX(0.93)">2050</span></div>
<div class="dc" style="left:401.5px;top:394.4px;width:27px;height:18.29px"><span style="transform:translateY(0.75px) scaleX(0.93)">24600</span></div>
<div class="dc" style="left:428.5px;top:394.4px;width:27.2px;height:18.29px"><span style="transform:translateY(0.75px) scaleX(0.93)">28</span></div>
<div class="dc" style="left:455.7px;top:394.4px;width:27.8px;height:18.29px"><span style="transform:translateY(0.75px) scaleX(0.93)">54</span></div>
<svg class="grid" width="1060" height="577" style="position:absolute;left:0;top:0"><defs><linearGradient id="gR" x1="0" y1="0" x2="0" y2="1"><stop offset="0" stop-color="#cc2230"/><stop offset="0.45" stop-color="#b41e2c"/><stop offset="1" stop-color="#861a21"/></linearGradient></defs><line x1="584.75" y1="103" x2="1065.5" y2="103" stroke="#d6d6d6" stroke-width="1"/><line x1="584.75" y1="120.05" x2="1065.5" y2="120.05" stroke="#d6d6d6" stroke-width="1"/><line x1="584.75" y1="138.34" x2="1065.5" y2="138.34" stroke="#d6d6d6" stroke-width="1"/><line x1="584.75" y1="156.63" x2="1065.5" y2="156.63" stroke="#d6d6d6" stroke-width="1"/><line x1="584.75" y1="174.92" x2="1065.5" y2="174.92" stroke="#d6d6d6" stroke-width="1"/><line x1="584.75" y1="193.21" x2="1065.5" y2="193.21" stroke="#d6d6d6" stroke-width="1"/><line x1="584.75" y1="211.5" x2="1065.5" y2="211.5" stroke="#d6d6d6" stroke-width="1"/><line x1="584.75" y1="229.79" x2="1065.5" y2="229.79" stroke="#d6d6d6" stroke-width="1"/><line x1="584.75" y1="248.08" x2="1065.5" y2="248.08" stroke="#d6d6d6" stroke-width="1"/><line x1="584.75" y1="266.37" x2="1065.5" y2="266.37" stroke="#d6d6d6" stroke-width="1"/><line x1="584.75" y1="284.66" x2="1065.5" y2="284.66" stroke="#d6d6d6" stroke-width="1"/><line x1="584.75" y1="302.95" x2="1065.5" y2="302.95" stroke="#d6d6d6" stroke-width="1"/><line x1="584.75" y1="321.24" x2="1065.5" y2="321.24" stroke="#d6d6d6" stroke-width="1"/><line x1="584.75" y1="339.53" x2="1065.5" y2="339.53" stroke="#d6d6d6" stroke-width="1"/><line x1="584.75" y1="357.82" x2="1065.5" y2="357.82" stroke="#d6d6d6" stroke-width="1"/><line x1="584.75" y1="376.11" x2="1065.5" y2="376.11" stroke="#d6d6d6" stroke-width="1"/><line x1="584.75" y1="394.4" x2="1065.5" y2="394.4" stroke="#d6d6d6" stroke-width="1"/><line x1="584.75" y1="103" x2="584.75" y2="394.4" stroke="#d6d6d6" stroke-width="1"/><line x1="647.7" y1="103" x2="647.7" y2="394.4" stroke="#d6d6d6" stroke-width="1"/><line x1="687" y1="103" x2="687" y2="394.4" stroke="#d6d6d6" stroke-width="1"/><line x1="734.9" y1="103" x2="734.9" y2="394.4" stroke="#d6d6d6" stroke-width="1"/><line x1="770.5" y1="103" x2="770.5" y2="394.4" stroke="#d6d6d6" stroke-width="1"/><line x1="798.2" y1="103" x2="798.2" y2="394.4" stroke="#d6d6d6" stroke-width="1"/><line x1="820.4" y1="103" x2="820.4" y2="394.4" stroke="#d6d6d6" stroke-width="1"/><line x1="844.6" y1="103" x2="844.6" y2="394.4" stroke="#d6d6d6" stroke-width="1"/><line x1="874.4" y1="103" x2="874.4" y2="394.4" stroke="#d6d6d6" stroke-width="1"/><line x1="902.2" y1="103" x2="902.2" y2="394.4" stroke="#d6d6d6" stroke-width="1"/><line x1="929.5" y1="103" x2="929.5" y2="394.4" stroke="#d6d6d6" stroke-width="1"/><line x1="957.3" y1="103" x2="957.3" y2="394.4" stroke="#d6d6d6" stroke-width="1"/><line x1="984.6" y1="103" x2="984.6" y2="394.4" stroke="#d6d6d6" stroke-width="1"/><line x1="1011.7" y1="103" x2="1011.7" y2="394.4" stroke="#d6d6d6" stroke-width="1"/><line x1="1038.5" y1="103" x2="1038.5" y2="394.4" stroke="#d6d6d6" stroke-width="1"/><line x1="1065.5" y1="103" x2="1065.5" y2="394.4" stroke="#d6d6d6" stroke-width="1"/><rect x="584.75" y="47.2" width="480.75" height="55.8" fill="url(#gR)"/><rect x="585.25" y="47.7" width="479.75" height="54.8" fill="none" stroke="#a31c27" stroke-width="1"/><line x1="647.7" y1="47.2" x2="647.7" y2="103" stroke="#df9ba0" stroke-width="1.3"/><line x1="687" y1="47.2" x2="687" y2="103" stroke="#df9ba0" stroke-width="1.3"/><line x1="734.9" y1="47.2" x2="734.9" y2="103" stroke="#df9ba0" stroke-width="1.3"/><line x1="770.5" y1="47.2" x2="770.5" y2="103" stroke="#df9ba0" stroke-width="1.3"/><line x1="929.5" y1="47.2" x2="929.5" y2="103" stroke="#df9ba0" stroke-width="1.3"/><line x1="1011.7" y1="47.2" x2="1011.7" y2="103" stroke="#df9ba0" stroke-width="1.3"/><line x1="798.2" y1="69" x2="798.2" y2="103" stroke="#df9ba0" stroke-width="1.3"/><line x1="820.4" y1="69" x2="820.4" y2="103" stroke="#df9ba0" stroke-width="1.3"/><line x1="844.6" y1="69" x2="844.6" y2="103" stroke="#df9ba0" stroke-width="1.3"/><line x1="874.4" y1="69" x2="874.4" y2="103" stroke="#df9ba0" stroke-width="1.3"/><line x1="902.2" y1="69" x2="902.2" y2="103" stroke="#df9ba0" stroke-width="1.3"/><line x1="957.3" y1="69" x2="957.3" y2="103" stroke="#df9ba0" stroke-width="1.3"/><line x1="984.6" y1="69" x2="984.6" y2="103" stroke="#df9ba0" stroke-width="1.3"/><line x1="1038.5" y1="69" x2="1038.5" y2="103" stroke="#df9ba0" stroke-width="1.3"/><line x1="770.5" y1="69" x2="1065.5" y2="69" stroke="#df9ba0" stroke-width="1"/></svg>
<div class="hc big" style="left:584.75px;top:47.2px;width:62.95px;height:55.8px"><span>Model</span></div>
<div class="hc" style="left:647.7px;top:47.2px;width:39.3px;height:55.8px"><span>Capacity<br>(W)</span></div>
<div class="hc" style="left:687px;top:47.2px;width:47.9px;height:55.8px"><span>Internal Volume<br>(dm³)</span></div>
<div class="hc" style="left:734.9px;top:47.2px;width:35.6px;height:55.8px"><span>Surface<br>(m²)</span></div>
<div class="hc top" style="left:765.5px;top:47.2px;width:159px;height:21.8px"><span style="transform:translateY(1px) scaleX(0.8)">Fan Data (380V/3PH/50Hz)</span></div>
<div class="hc top" style="left:928.5px;top:47.2px;width:82.2px;height:21.8px"><span style="transform:translateY(1px) scaleX(0.752)">Defrost heater&nbsp;&nbsp;&nbsp;(220V/1PH/50Hz)</span></div>
<div class="hc top" style="left:1011.2px;top:47.2px;width:53.8px;height:21.8px"><span style="transform:translateY(1px) scaleX(0.794)">Connecting tube Φ</span></div>
<div class="hc" style="left:770.5px;top:69px;width:27.7px;height:34px"><span>Air flow<br>(m³/h)</span></div>
<div class="hc" style="left:798.2px;top:69px;width:22.2px;height:34px"><span>Qty</span></div>
<div class="hc" style="left:820.4px;top:69px;width:24.2px;height:34px"><span>DiamΦ<br>(mm)</span></div>
<div class="hc" style="left:844.6px;top:69px;width:29.8px;height:34px"><span>Air Throw<br>(m)</span></div>
<div class="hc" style="left:874.4px;top:69px;width:27.8px;height:34px"><span>Power<br>(W)</span></div>
<div class="hc" style="left:902.2px;top:69px;width:27.3px;height:34px"><span>Current<br>(A)</span></div>
<div class="hc" style="left:929.5px;top:69px;width:27.8px;height:34px"><span>Coil<br>(W)</span></div>
<div class="hc" style="left:957.3px;top:69px;width:27.3px;height:34px"><span>Drip pan<br>(W)</span></div>
<div class="hc" style="left:984.6px;top:69px;width:27.1px;height:34px"><span>total<br>(W)</span></div>
<div class="hc" style="left:1011.7px;top:69px;width:26.8px;height:34px"><span>Inlet<br>(mm)</span></div>
<div class="hc" style="left:1038.5px;top:69px;width:27px;height:34px"><span>Outlet<br>(mm)</span></div>
<div class="dc" style="left:584.75px;top:103px;width:62.95px;height:17.05px"><span style="transform:translateY(0.75px) scaleX(0.755)">XBDJE-1.3/8</span></div>
<div class="dc" style="left:647.7px;top:103px;width:39.3px;height:17.05px"><span style="transform:translateY(0.75px) scaleX(0.93)">1332</span></div>
<div class="dc" style="left:687px;top:103px;width:47.9px;height:17.05px"><span style="transform:translateY(0.75px) scaleX(0.89)">2.0</span></div>
<div class="dc" style="left:734.9px;top:103px;width:35.6px;height:17.05px"><span style="transform:translateY(0.75px) scaleX(0.93)">8</span></div>
<div class="dc" style="left:770.5px;top:103px;width:27.7px;height:17.05px"><span style="transform:translateY(0.75px) scaleX(0.93)">3360</span></div>
<div class="dc" style="left:798.2px;top:103px;width:22.2px;height:17.05px"><span style="transform:translateY(0.75px) scaleX(0.93)">2</span></div>
<div class="dc" style="left:820.4px;top:103px;width:24.2px;height:17.05px"><span style="transform:translateY(0.75px) scaleX(0.93)">300</span></div>
<div class="dc" style="left:844.6px;top:103px;width:29.8px;height:17.05px"><span style="transform:translateY(0.75px) scaleX(0.93)">9</span></div>
<div class="dc" style="left:874.4px;top:103px;width:27.8px;height:17.05px"><span style="transform:translateY(0.75px) scaleX(0.77)">2x75</span></div>
<div class="dc" style="left:902.2px;top:103px;width:27.3px;height:17.05px"><span style="transform:translateY(0.75px) scaleX(0.77)">2x0.24</span></div>
<div class="dc" style="left:929.5px;top:103px;width:27.8px;height:17.05px"><span style="transform:translateY(0.75px) scaleX(0.77)">780*2</span></div>
<div class="dc" style="left:957.3px;top:103px;width:27.3px;height:17.05px"><span style="transform:translateY(0.75px) scaleX(0.93)">780</span></div>
<div class="dc" style="left:984.6px;top:103px;width:27.1px;height:17.05px"><span style="transform:translateY(0.75px) scaleX(0.93)">2340</span></div>
<div class="dc" style="left:1011.7px;top:103px;width:26.8px;height:17.05px"><span style="transform:translateY(0.75px) scaleX(0.93)">12</span></div>
<div class="dc" style="left:1038.5px;top:103px;width:27px;height:17.05px"><span style="transform:translateY(0.75px) scaleX(0.93)">16</span></div>
<div class="dc" style="left:584.75px;top:120.05px;width:62.95px;height:18.29px"><span style="transform:translateY(0.75px) scaleX(0.755)">XBDJE-2.0/12</span></div>
<div class="dc" style="left:647.7px;top:120.05px;width:39.3px;height:18.29px"><span style="transform:translateY(0.75px) scaleX(0.93)">2035</span></div>
<div class="dc" style="left:687px;top:120.05px;width:47.9px;height:18.29px"><span style="transform:translateY(0.75px) scaleX(0.89)">2.3</span></div>
<div class="dc" style="left:734.9px;top:120.05px;width:35.6px;height:18.29px"><span style="transform:translateY(0.75px) scaleX(0.93)">12</span></div>
<div class="dc" style="left:770.5px;top:120.05px;width:27.7px;height:18.29px"><span style="transform:translateY(0.75px) scaleX(0.93)">3360</span></div>
<div class="dc" style="left:798.2px;top:120.05px;width:22.2px;height:18.29px"><span style="transform:translateY(0.75px) scaleX(0.93)">2</span></div>
<div class="dc" style="left:820.4px;top:120.05px;width:24.2px;height:18.29px"><span style="transform:translateY(0.75px) scaleX(0.93)">300</span></div>
<div class="dc" style="left:844.6px;top:120.05px;width:29.8px;height:18.29px"><span style="transform:translateY(0.75px) scaleX(0.93)">9</span></div>
<div class="dc" style="left:874.4px;top:120.05px;width:27.8px;height:18.29px"><span style="transform:translateY(0.75px) scaleX(0.77)">2x75</span></div>
<div class="dc" style="left:902.2px;top:120.05px;width:27.3px;height:18.29px"><span style="transform:translateY(0.75px) scaleX(0.77)">2x0.24</span></div>
<div class="dc" style="left:929.5px;top:120.05px;width:27.8px;height:18.29px"><span style="transform:translateY(0.75px) scaleX(0.77)">900*2</span></div>
<div class="dc" style="left:957.3px;top:120.05px;width:27.3px;height:18.29px"><span style="transform:translateY(0.75px) scaleX(0.93)">900</span></div>
<div class="dc" style="left:984.6px;top:120.05px;width:27.1px;height:18.29px"><span style="transform:translateY(0.75px) scaleX(0.93)">2700</span></div>
<div class="dc" style="left:1011.7px;top:120.05px;width:26.8px;height:18.29px"><span style="transform:translateY(0.75px) scaleX(0.93)">12</span></div>
<div class="dc" style="left:1038.5px;top:120.05px;width:27px;height:18.29px"><span style="transform:translateY(0.75px) scaleX(0.93)">16</span></div>
<div class="dc" style="left:584.75px;top:138.34px;width:62.95px;height:18.29px"><span style="transform:translateY(0.75px) scaleX(0.755)">XBDJE-2.4/15</span></div>
<div class="dc" style="left:647.7px;top:138.34px;width:39.3px;height:18.29px"><span style="transform:translateY(0.75px) scaleX(0.93)">2398</span></div>
<div class="dc" style="left:687px;top:138.34px;width:47.9px;height:18.29px"><span style="transform:translateY(0.75px) scaleX(0.89)">3.5</span></div>
<div class="dc" style="left:734.9px;top:138.34px;width:35.6px;height:18.29px"><span style="transform:translateY(0.75px) scaleX(0.93)">15</span></div>
<div class="dc" style="left:770.5px;top:138.34px;width:27.7px;height:18.29px"><span style="transform:translateY(0.75px) scaleX(0.93)">5040</span></div>
<div class="dc" style="left:798.2px;top:138.34px;width:22.2px;height:18.29px"><span style="transform:translateY(0.75px) scaleX(0.93)">2</span></div>
<div class="dc" style="left:820.4px;top:138.34px;width:24.2px;height:18.29px"><span style="transform:translateY(0.75px) scaleX(0.93)">350</span></div>
<div class="dc" style="left:844.6px;top:138.34px;width:29.8px;height:18.29px"><span style="transform:translateY(0.75px) scaleX(0.93)">9</span></div>
<div class="dc" style="left:874.4px;top:138.34px;width:27.8px;height:18.29px"><span style="transform:translateY(0.75px) scaleX(0.77)">2x165</span></div>
<div class="dc" style="left:902.2px;top:138.34px;width:27.3px;height:18.29px"><span style="transform:translateY(0.75px) scaleX(0.77)">2x0.43</span></div>
<div class="dc" style="left:929.5px;top:138.34px;width:27.8px;height:18.29px"><span style="transform:translateY(0.75px) scaleX(0.77)">900*2</span></div>
<div class="dc" style="left:957.3px;top:138.34px;width:27.3px;height:18.29px"><span style="transform:translateY(0.75px) scaleX(0.93)">900</span></div>
<div class="dc" style="left:984.6px;top:138.34px;width:27.1px;height:18.29px"><span style="transform:translateY(0.75px) scaleX(0.93)">2700</span></div>
<div class="dc" style="left:1011.7px;top:138.34px;width:26.8px;height:18.29px"><span style="transform:translateY(0.75px) scaleX(0.93)">12</span></div>
<div class="dc" style="left:1038.5px;top:138.34px;width:27px;height:18.29px"><span style="transform:translateY(0.75px) scaleX(0.93)">19</span></div>
<div class="dc" style="left:584.75px;top:156.63px;width:62.95px;height:18.29px"><span style="transform:translateY(0.75px) scaleX(0.755)">XBDJE-3.2/20</span></div>
<div class="dc" style="left:647.7px;top:156.63px;width:39.3px;height:18.29px"><span style="transform:translateY(0.75px) scaleX(0.93)">3189</span></div>
<div class="dc" style="left:687px;top:156.63px;width:47.9px;height:18.29px"><span style="transform:translateY(0.75px) scaleX(0.89)">5.3</span></div>
<div class="dc" style="left:734.9px;top:156.63px;width:35.6px;height:18.29px"><span style="transform:translateY(0.75px) scaleX(0.93)">20</span></div>
<div class="dc" style="left:770.5px;top:156.63px;width:27.7px;height:18.29px"><span style="transform:translateY(0.75px) scaleX(0.93)">6900</span></div>
<div class="dc" style="left:798.2px;top:156.63px;width:22.2px;height:18.29px"><span style="transform:translateY(0.75px) scaleX(0.93)">2</span></div>
<div class="dc" style="left:820.4px;top:156.63px;width:24.2px;height:18.29px"><span style="transform:translateY(0.75px) scaleX(0.93)">400</span></div>
<div class="dc" style="left:844.6px;top:156.63px;width:29.8px;height:18.29px"><span style="transform:translateY(0.75px) scaleX(0.93)">11</span></div>
<div class="dc" style="left:874.4px;top:156.63px;width:27.8px;height:18.29px"><span style="transform:translateY(0.75px) scaleX(0.77)">2x216</span></div>
<div class="dc" style="left:902.2px;top:156.63px;width:27.3px;height:18.29px"><span style="transform:translateY(0.75px) scaleX(0.77)">2x0.46</span></div>
<div class="dc" style="left:929.5px;top:156.63px;width:27.8px;height:18.29px"><span style="transform:translateY(0.75px) scaleX(0.77)">1100*2</span></div>
<div class="dc" style="left:957.3px;top:156.63px;width:27.3px;height:18.29px"><span style="transform:translateY(0.75px) scaleX(0.93)">1100</span></div>
<div class="dc" style="left:984.6px;top:156.63px;width:27.1px;height:18.29px"><span style="transform:translateY(0.75px) scaleX(0.93)">3300</span></div>
<div class="dc" style="left:1011.7px;top:156.63px;width:26.8px;height:18.29px"><span style="transform:translateY(0.75px) scaleX(0.93)">12</span></div>
<div class="dc" style="left:1038.5px;top:156.63px;width:27px;height:18.29px"><span style="transform:translateY(0.75px) scaleX(0.93)">22</span></div>
<div class="dc" style="left:584.75px;top:174.92px;width:62.95px;height:18.29px"><span style="transform:translateY(0.75px) scaleX(0.755)">XBDJE-4.9/30</span></div>
<div class="dc" style="left:647.7px;top:174.92px;width:39.3px;height:18.29px"><span style="transform:translateY(0.75px) scaleX(0.93)">4920</span></div>
<div class="dc" style="left:687px;top:174.92px;width:47.9px;height:18.29px"><span style="transform:translateY(0.75px) scaleX(0.89)">7.1</span></div>
<div class="dc" style="left:734.9px;top:174.92px;width:35.6px;height:18.29px"><span style="transform:translateY(0.75px) scaleX(0.93)">30</span></div>
<div class="dc" style="left:770.5px;top:174.92px;width:27.7px;height:18.29px"><span style="transform:translateY(0.75px) scaleX(0.93)">6900</span></div>
<div class="dc" style="left:798.2px;top:174.92px;width:22.2px;height:18.29px"><span style="transform:translateY(0.75px) scaleX(0.93)">2</span></div>
<div class="dc" style="left:820.4px;top:174.92px;width:24.2px;height:18.29px"><span style="transform:translateY(0.75px) scaleX(0.93)">400</span></div>
<div class="dc" style="left:844.6px;top:174.92px;width:29.8px;height:18.29px"><span style="transform:translateY(0.75px) scaleX(0.93)">11</span></div>
<div class="dc" style="left:874.4px;top:174.92px;width:27.8px;height:18.29px"><span style="transform:translateY(0.75px) scaleX(0.77)">2x216</span></div>
<div class="dc" style="left:902.2px;top:174.92px;width:27.3px;height:18.29px"><span style="transform:translateY(0.75px) scaleX(0.77)">2x0.46</span></div>
<div class="dc" style="left:929.5px;top:174.92px;width:27.8px;height:18.29px"><span style="transform:translateY(0.75px) scaleX(0.77)">1100*2</span></div>
<div class="dc" style="left:957.3px;top:174.92px;width:27.3px;height:18.29px"><span style="transform:translateY(0.75px) scaleX(0.93)">1100</span></div>
<div class="dc" style="left:984.6px;top:174.92px;width:27.1px;height:18.29px"><span style="transform:translateY(0.75px) scaleX(0.93)">3300</span></div>
<div class="dc" style="left:1011.7px;top:174.92px;width:26.8px;height:18.29px"><span style="transform:translateY(0.75px) scaleX(0.93)">12</span></div>
<div class="dc" style="left:1038.5px;top:174.92px;width:27px;height:18.29px"><span style="transform:translateY(0.75px) scaleX(0.93)">22</span></div>
<div class="dc" style="left:584.75px;top:193.21px;width:62.95px;height:18.29px"><span style="transform:translateY(0.75px) scaleX(0.755)">XBDJE-6.5/40</span></div>
<div class="dc" style="left:647.7px;top:193.21px;width:39.3px;height:18.29px"><span style="transform:translateY(0.75px) scaleX(0.93)">6502</span></div>
<div class="dc" style="left:687px;top:193.21px;width:47.9px;height:18.29px"><span style="transform:translateY(0.75px) scaleX(0.89)">9.0</span></div>
<div class="dc" style="left:734.9px;top:193.21px;width:35.6px;height:18.29px"><span style="transform:translateY(0.75px) scaleX(0.93)">40</span></div>
<div class="dc" style="left:770.5px;top:193.21px;width:27.7px;height:18.29px"><span style="transform:translateY(0.75px) scaleX(0.93)">12000</span></div>
<div class="dc" style="left:798.2px;top:193.21px;width:22.2px;height:18.29px"><span style="transform:translateY(0.75px) scaleX(0.93)">2</span></div>
<div class="dc" style="left:820.4px;top:193.21px;width:24.2px;height:18.29px"><span style="transform:translateY(0.75px) scaleX(0.93)">500</span></div>
<div class="dc" style="left:844.6px;top:193.21px;width:29.8px;height:18.29px"><span style="transform:translateY(0.75px) scaleX(0.93)">17</span></div>
<div class="dc" style="left:874.4px;top:193.21px;width:27.8px;height:18.29px"><span style="transform:translateY(0.75px) scaleX(0.77)">2x449</span></div>
<div class="dc" style="left:902.2px;top:193.21px;width:27.3px;height:18.29px"><span style="transform:translateY(0.75px) scaleX(0.77)">2x0.83</span></div>
<div class="dc" style="left:929.5px;top:193.21px;width:27.8px;height:18.29px"><span style="transform:translateY(0.75px) scaleX(0.77)">1400*3</span></div>
<div class="dc" style="left:957.3px;top:193.21px;width:27.3px;height:18.29px"><span style="transform:translateY(0.75px) scaleX(0.93)">1400</span></div>
<div class="dc" style="left:984.6px;top:193.21px;width:27.1px;height:18.29px"><span style="transform:translateY(0.75px) scaleX(0.93)">5600</span></div>
<div class="dc" style="left:1011.7px;top:193.21px;width:26.8px;height:18.29px"><span style="transform:translateY(0.75px) scaleX(0.93)">16</span></div>
<div class="dc" style="left:1038.5px;top:193.21px;width:27px;height:18.29px"><span style="transform:translateY(0.75px) scaleX(0.93)">28</span></div>
<div class="dc" style="left:584.75px;top:211.5px;width:62.95px;height:18.29px"><span style="transform:translateY(0.75px) scaleX(0.755)">XBDJE-8.8/55</span></div>
<div class="dc" style="left:647.7px;top:211.5px;width:39.3px;height:18.29px"><span style="transform:translateY(0.75px) scaleX(0.93)">8786</span></div>
<div class="dc" style="left:687px;top:211.5px;width:47.9px;height:18.29px"><span style="transform:translateY(0.75px) scaleX(0.89)">12.1</span></div>
<div class="dc" style="left:734.9px;top:211.5px;width:35.6px;height:18.29px"><span style="transform:translateY(0.75px) scaleX(0.93)">55</span></div>
<div class="dc" style="left:770.5px;top:211.5px;width:27.7px;height:18.29px"><span style="transform:translateY(0.75px) scaleX(0.93)">12000</span></div>
<div class="dc" style="left:798.2px;top:211.5px;width:22.2px;height:18.29px"><span style="transform:translateY(0.75px) scaleX(0.93)">2</span></div>
<div class="dc" style="left:820.4px;top:211.5px;width:24.2px;height:18.29px"><span style="transform:translateY(0.75px) scaleX(0.93)">500</span></div>
<div class="dc" style="left:844.6px;top:211.5px;width:29.8px;height:18.29px"><span style="transform:translateY(0.75px) scaleX(0.93)">17</span></div>
<div class="dc" style="left:874.4px;top:211.5px;width:27.8px;height:18.29px"><span style="transform:translateY(0.75px) scaleX(0.77)">2x449</span></div>
<div class="dc" style="left:902.2px;top:211.5px;width:27.3px;height:18.29px"><span style="transform:translateY(0.75px) scaleX(0.77)">2x0.83</span></div>
<div class="dc" style="left:929.5px;top:211.5px;width:27.8px;height:18.29px"><span style="transform:translateY(0.75px) scaleX(0.77)">1400*5</span></div>
<div class="dc" style="left:957.3px;top:211.5px;width:27.3px;height:18.29px"><span style="transform:translateY(0.75px) scaleX(0.93)">1400</span></div>
<div class="dc" style="left:984.6px;top:211.5px;width:27.1px;height:18.29px"><span style="transform:translateY(0.75px) scaleX(0.93)">8400</span></div>
<div class="dc" style="left:1011.7px;top:211.5px;width:26.8px;height:18.29px"><span style="transform:translateY(0.75px) scaleX(0.93)">16</span></div>
<div class="dc" style="left:1038.5px;top:211.5px;width:27px;height:18.29px"><span style="transform:translateY(0.75px) scaleX(0.93)">35</span></div>
<div class="dc" style="left:584.75px;top:229.79px;width:62.95px;height:18.29px"><span style="transform:translateY(0.75px) scaleX(0.755)">XBDJE-11.5/70</span></div>
<div class="dc" style="left:647.7px;top:229.79px;width:39.3px;height:18.29px"><span style="transform:translateY(0.75px) scaleX(0.93)">11523</span></div>
<div class="dc" style="left:687px;top:229.79px;width:47.9px;height:18.29px"><span style="transform:translateY(0.75px) scaleX(0.89)">15.6</span></div>
<div class="dc" style="left:734.9px;top:229.79px;width:35.6px;height:18.29px"><span style="transform:translateY(0.75px) scaleX(0.93)">70</span></div>
<div class="dc" style="left:770.5px;top:229.79px;width:27.7px;height:18.29px"><span style="transform:translateY(0.75px) scaleX(0.93)">18000</span></div>
<div class="dc" style="left:798.2px;top:229.79px;width:22.2px;height:18.29px"><span style="transform:translateY(0.75px) scaleX(0.93)">3</span></div>
<div class="dc" style="left:820.4px;top:229.79px;width:24.2px;height:18.29px"><span style="transform:translateY(0.75px) scaleX(0.93)">500</span></div>
<div class="dc" style="left:844.6px;top:229.79px;width:29.8px;height:18.29px"><span style="transform:translateY(0.75px) scaleX(0.93)">17</span></div>
<div class="dc" style="left:874.4px;top:229.79px;width:27.8px;height:18.29px"><span style="transform:translateY(0.75px) scaleX(0.77)">3x449</span></div>
<div class="dc" style="left:902.2px;top:229.79px;width:27.3px;height:18.29px"><span style="transform:translateY(0.75px) scaleX(0.77)">3x0.83</span></div>
<div class="dc" style="left:929.5px;top:229.79px;width:27.8px;height:18.29px"><span style="transform:translateY(0.75px) scaleX(0.77)">1600*5</span></div>
<div class="dc" style="left:957.3px;top:229.79px;width:27.3px;height:18.29px"><span style="transform:translateY(0.75px) scaleX(0.93)">1600</span></div>
<div class="dc" style="left:984.6px;top:229.79px;width:27.1px;height:18.29px"><span style="transform:translateY(0.75px) scaleX(0.93)">9600</span></div>
<div class="dc" style="left:1011.7px;top:229.79px;width:26.8px;height:18.29px"><span style="transform:translateY(0.75px) scaleX(0.93)">16</span></div>
<div class="dc" style="left:1038.5px;top:229.79px;width:27px;height:18.29px"><span style="transform:translateY(0.75px) scaleX(0.93)">35</span></div>
<div class="dc" style="left:584.75px;top:248.08px;width:62.95px;height:18.29px"><span style="transform:translateY(0.75px) scaleX(0.755)">XBDJE-13.5/85</span></div>
<div class="dc" style="left:647.7px;top:248.08px;width:39.3px;height:18.29px"><span style="transform:translateY(0.75px) scaleX(0.93)">13536</span></div>
<div class="dc" style="left:687px;top:248.08px;width:47.9px;height:18.29px"><span style="transform:translateY(0.75px) scaleX(0.89)">17.8</span></div>
<div class="dc" style="left:734.9px;top:248.08px;width:35.6px;height:18.29px"><span style="transform:translateY(0.75px) scaleX(0.93)">85</span></div>
<div class="dc" style="left:770.5px;top:248.08px;width:27.7px;height:18.29px"><span style="transform:translateY(0.75px) scaleX(0.93)">18000</span></div>
<div class="dc" style="left:798.2px;top:248.08px;width:22.2px;height:18.29px"><span style="transform:translateY(0.75px) scaleX(0.93)">3</span></div>
<div class="dc" style="left:820.4px;top:248.08px;width:24.2px;height:18.29px"><span style="transform:translateY(0.75px) scaleX(0.93)">500</span></div>
<div class="dc" style="left:844.6px;top:248.08px;width:29.8px;height:18.29px"><span style="transform:translateY(0.75px) scaleX(0.93)">17</span></div>
<div class="dc" style="left:874.4px;top:248.08px;width:27.8px;height:18.29px"><span style="transform:translateY(0.75px) scaleX(0.77)">3x449</span></div>
<div class="dc" style="left:902.2px;top:248.08px;width:27.3px;height:18.29px"><span style="transform:translateY(0.75px) scaleX(0.77)">3x0.83</span></div>
<div class="dc" style="left:929.5px;top:248.08px;width:27.8px;height:18.29px"><span style="transform:translateY(0.75px) scaleX(0.77)">1800*5</span></div>
<div class="dc" style="left:957.3px;top:248.08px;width:27.3px;height:18.29px"><span style="transform:translateY(0.75px) scaleX(0.93)">1800</span></div>
<div class="dc" style="left:984.6px;top:248.08px;width:27.1px;height:18.29px"><span style="transform:translateY(0.75px) scaleX(0.93)">10800</span></div>
<div class="dc" style="left:1011.7px;top:248.08px;width:26.8px;height:18.29px"><span style="transform:translateY(0.75px) scaleX(0.93)">22</span></div>
<div class="dc" style="left:1038.5px;top:248.08px;width:27px;height:18.29px"><span style="transform:translateY(0.75px) scaleX(0.93)">42</span></div>
<div class="dc" style="left:584.75px;top:266.37px;width:62.95px;height:18.29px"><span style="transform:translateY(0.75px) scaleX(0.755)">XBDJE-16.6/100</span></div>
<div class="dc" style="left:647.7px;top:266.37px;width:39.3px;height:18.29px"><span style="transform:translateY(0.75px) scaleX(0.93)">16636</span></div>
<div class="dc" style="left:687px;top:266.37px;width:47.9px;height:18.29px"><span style="transform:translateY(0.75px) scaleX(0.89)">20.7</span></div>
<div class="dc" style="left:734.9px;top:266.37px;width:35.6px;height:18.29px"><span style="transform:translateY(0.75px) scaleX(0.93)">100</span></div>
<div class="dc" style="left:770.5px;top:266.37px;width:27.7px;height:18.29px"><span style="transform:translateY(0.75px) scaleX(0.93)">24000</span></div>
<div class="dc" style="left:798.2px;top:266.37px;width:22.2px;height:18.29px"><span style="transform:translateY(0.75px) scaleX(0.93)">4</span></div>
<div class="dc" style="left:820.4px;top:266.37px;width:24.2px;height:18.29px"><span style="transform:translateY(0.75px) scaleX(0.93)">500</span></div>
<div class="dc" style="left:844.6px;top:266.37px;width:29.8px;height:18.29px"><span style="transform:translateY(0.75px) scaleX(0.93)">17</span></div>
<div class="dc" style="left:874.4px;top:266.37px;width:27.8px;height:18.29px"><span style="transform:translateY(0.75px) scaleX(0.77)">4x449</span></div>
<div class="dc" style="left:902.2px;top:266.37px;width:27.3px;height:18.29px"><span style="transform:translateY(0.75px) scaleX(0.77)">4x0.83</span></div>
<div class="dc" style="left:929.5px;top:266.37px;width:27.8px;height:18.29px"><span style="transform:translateY(0.75px) scaleX(0.77)">2050*5</span></div>
<div class="dc" style="left:957.3px;top:266.37px;width:27.3px;height:18.29px"><span style="transform:translateY(0.75px) scaleX(0.93)">2050</span></div>
<div class="dc" style="left:984.6px;top:266.37px;width:27.1px;height:18.29px"><span style="transform:translateY(0.75px) scaleX(0.93)">12300</span></div>
<div class="dc" style="left:1011.7px;top:266.37px;width:26.8px;height:18.29px"><span style="transform:translateY(0.75px) scaleX(0.93)">22</span></div>
<div class="dc" style="left:1038.5px;top:266.37px;width:27px;height:18.29px"><span style="transform:translateY(0.75px) scaleX(0.93)">42</span></div>
<div class="dc" style="left:584.75px;top:284.66px;width:62.95px;height:18.29px"><span style="transform:translateY(0.75px) scaleX(0.755)">XBDJE-18.8/115</span></div>
<div class="dc" style="left:647.7px;top:284.66px;width:39.3px;height:18.29px"><span style="transform:translateY(0.75px) scaleX(0.93)">18798</span></div>
<div class="dc" style="left:687px;top:284.66px;width:47.9px;height:18.29px"><span style="transform:translateY(0.75px) scaleX(0.89)">23.5</span></div>
<div class="dc" style="left:734.9px;top:284.66px;width:35.6px;height:18.29px"><span style="transform:translateY(0.75px) scaleX(0.93)">115</span></div>
<div class="dc" style="left:770.5px;top:284.66px;width:27.7px;height:18.29px"><span style="transform:translateY(0.75px) scaleX(0.93)">24000</span></div>
<div class="dc" style="left:798.2px;top:284.66px;width:22.2px;height:18.29px"><span style="transform:translateY(0.75px) scaleX(0.93)">4</span></div>
<div class="dc" style="left:820.4px;top:284.66px;width:24.2px;height:18.29px"><span style="transform:translateY(0.75px) scaleX(0.93)">500</span></div>
<div class="dc" style="left:844.6px;top:284.66px;width:29.8px;height:18.29px"><span style="transform:translateY(0.75px) scaleX(0.93)">17</span></div>
<div class="dc" style="left:874.4px;top:284.66px;width:27.8px;height:18.29px"><span style="transform:translateY(0.75px) scaleX(0.77)">4x449</span></div>
<div class="dc" style="left:902.2px;top:284.66px;width:27.3px;height:18.29px"><span style="transform:translateY(0.75px) scaleX(0.77)">4x0.83</span></div>
<div class="dc" style="left:929.5px;top:284.66px;width:27.8px;height:18.29px"><span style="transform:translateY(0.75px) scaleX(0.77)">2200*5</span></div>
<div class="dc" style="left:957.3px;top:284.66px;width:27.3px;height:18.29px"><span style="transform:translateY(0.75px) scaleX(0.93)">2200</span></div>
<div class="dc" style="left:984.6px;top:284.66px;width:27.1px;height:18.29px"><span style="transform:translateY(0.75px) scaleX(0.93)">13200</span></div>
<div class="dc" style="left:1011.7px;top:284.66px;width:26.8px;height:18.29px"><span style="transform:translateY(0.75px) scaleX(0.93)">22</span></div>
<div class="dc" style="left:1038.5px;top:284.66px;width:27px;height:18.29px"><span style="transform:translateY(0.75px) scaleX(0.93)">42</span></div>
<div class="dc" style="left:584.75px;top:302.95px;width:62.95px;height:18.29px"><span style="transform:translateY(0.75px) scaleX(0.755)">XBDJE-23/140</span></div>
<div class="dc" style="left:647.7px;top:302.95px;width:39.3px;height:18.29px"><span style="transform:translateY(0.75px) scaleX(0.93)">23049</span></div>
<div class="dc" style="left:687px;top:302.95px;width:47.9px;height:18.29px"><span style="transform:translateY(0.75px) scaleX(0.89)">29.4</span></div>
<div class="dc" style="left:734.9px;top:302.95px;width:35.6px;height:18.29px"><span style="transform:translateY(0.75px) scaleX(0.93)">140</span></div>
<div class="dc" style="left:770.5px;top:302.95px;width:27.7px;height:18.29px"><span style="transform:translateY(0.75px) scaleX(0.93)">24000</span></div>
<div class="dc" style="left:798.2px;top:302.95px;width:22.2px;height:18.29px"><span style="transform:translateY(0.75px) scaleX(0.93)">4</span></div>
<div class="dc" style="left:820.4px;top:302.95px;width:24.2px;height:18.29px"><span style="transform:translateY(0.75px) scaleX(0.93)">500</span></div>
<div class="dc" style="left:844.6px;top:302.95px;width:29.8px;height:18.29px"><span style="transform:translateY(0.75px) scaleX(0.93)">17</span></div>
<div class="dc" style="left:874.4px;top:302.95px;width:27.8px;height:18.29px"><span style="transform:translateY(0.75px) scaleX(0.77)">4x449</span></div>
<div class="dc" style="left:902.2px;top:302.95px;width:27.3px;height:18.29px"><span style="transform:translateY(0.75px) scaleX(0.77)">4x0.83</span></div>
<div class="dc" style="left:929.5px;top:302.95px;width:27.8px;height:18.29px"><span style="transform:translateY(0.75px) scaleX(0.77)">2200*5</span></div>
<div class="dc" style="left:957.3px;top:302.95px;width:27.3px;height:18.29px"><span style="transform:translateY(0.75px) scaleX(0.93)">2200</span></div>
<div class="dc" style="left:984.6px;top:302.95px;width:27.1px;height:18.29px"><span style="transform:translateY(0.75px) scaleX(0.93)">13200</span></div>
<div class="dc" style="left:1011.7px;top:302.95px;width:26.8px;height:18.29px"><span style="transform:translateY(0.75px) scaleX(0.93)">22</span></div>
<div class="dc" style="left:1038.5px;top:302.95px;width:27px;height:18.29px"><span style="transform:translateY(0.75px) scaleX(0.93)">42</span></div>
<div class="dc" style="left:584.75px;top:321.24px;width:62.95px;height:18.29px"><span style="transform:translateY(0.75px) scaleX(0.755)">XBDJE-28/175</span></div>
<div class="dc" style="left:647.7px;top:321.24px;width:39.3px;height:18.29px"><span style="transform:translateY(0.75px) scaleX(0.93)">28037</span></div>
<div class="dc" style="left:687px;top:321.24px;width:47.9px;height:18.29px"><span style="transform:translateY(0.75px) scaleX(0.89)">41.2</span></div>
<div class="dc" style="left:734.9px;top:321.24px;width:35.6px;height:18.29px"><span style="transform:translateY(0.75px) scaleX(0.93)">175</span></div>
<div class="dc" style="left:770.5px;top:321.24px;width:27.7px;height:18.29px"><span style="transform:translateY(0.75px) scaleX(0.93)">32000</span></div>
<div class="dc" style="left:798.2px;top:321.24px;width:22.2px;height:18.29px"><span style="transform:translateY(0.75px) scaleX(0.93)">4</span></div>
<div class="dc" style="left:820.4px;top:321.24px;width:24.2px;height:18.29px"><span style="transform:translateY(0.75px) scaleX(0.93)">550</span></div>
<div class="dc" style="left:844.6px;top:321.24px;width:29.8px;height:18.29px"><span style="transform:translateY(0.75px) scaleX(0.93)">17</span></div>
<div class="dc" style="left:874.4px;top:321.24px;width:27.8px;height:18.29px"><span style="transform:translateY(0.75px) scaleX(0.77)">4x808</span></div>
<div class="dc" style="left:902.2px;top:321.24px;width:27.3px;height:18.29px"><span style="transform:translateY(0.75px) scaleX(0.77)">4x1.48</span></div>
<div class="dc" style="left:929.5px;top:321.24px;width:27.8px;height:18.29px"><span style="transform:translateY(0.75px) scaleX(0.77)">2200*8</span></div>
<div class="dc" style="left:957.3px;top:321.24px;width:27.3px;height:18.29px"><span style="transform:translateY(0.75px) scaleX(0.93)">2200</span></div>
<div class="dc" style="left:984.6px;top:321.24px;width:27.1px;height:18.29px"><span style="transform:translateY(0.75px) scaleX(0.93)">19800</span></div>
<div class="dc" style="left:1011.7px;top:321.24px;width:26.8px;height:18.29px"><span style="transform:translateY(0.75px) scaleX(0.93)">28</span></div>
<div class="dc" style="left:1038.5px;top:321.24px;width:27px;height:18.29px"><span style="transform:translateY(0.75px) scaleX(0.93)">54</span></div>
<div class="dc" style="left:584.75px;top:339.53px;width:62.95px;height:18.29px"><span style="transform:translateY(0.75px) scaleX(0.755)">XBDJE-34/210</span></div>
<div class="dc" style="left:647.7px;top:339.53px;width:39.3px;height:18.29px"><span style="transform:translateY(0.75px) scaleX(0.93)">34028</span></div>
<div class="dc" style="left:687px;top:339.53px;width:47.9px;height:18.29px"><span style="transform:translateY(0.75px) scaleX(0.89)">47.1</span></div>
<div class="dc" style="left:734.9px;top:339.53px;width:35.6px;height:18.29px"><span style="transform:translateY(0.75px) scaleX(0.93)">210</span></div>
<div class="dc" style="left:770.5px;top:339.53px;width:27.7px;height:18.29px"><span style="transform:translateY(0.75px) scaleX(0.93)">36000</span></div>
<div class="dc" style="left:798.2px;top:339.53px;width:22.2px;height:18.29px"><span style="transform:translateY(0.75px) scaleX(0.93)">4</span></div>
<div class="dc" style="left:820.4px;top:339.53px;width:24.2px;height:18.29px"><span style="transform:translateY(0.75px) scaleX(0.93)">600</span></div>
<div class="dc" style="left:844.6px;top:339.53px;width:29.8px;height:18.29px"><span style="transform:translateY(0.75px) scaleX(0.93)">20</span></div>
<div class="dc" style="left:874.4px;top:339.53px;width:27.8px;height:18.29px"><span style="transform:translateY(0.75px) scaleX(0.77)">4x962</span></div>
<div class="dc" style="left:902.2px;top:339.53px;width:27.3px;height:18.29px"><span style="transform:translateY(0.75px) scaleX(0.77)">4x1.82</span></div>
<div class="dc" style="left:929.5px;top:339.53px;width:27.8px;height:18.29px"><span style="transform:translateY(0.75px) scaleX(0.77)">2200*8</span></div>
<div class="dc" style="left:957.3px;top:339.53px;width:27.3px;height:18.29px"><span style="transform:translateY(0.75px) scaleX(0.93)">2200</span></div>
<div class="dc" style="left:984.6px;top:339.53px;width:27.1px;height:18.29px"><span style="transform:translateY(0.75px) scaleX(0.93)">19800</span></div>
<div class="dc" style="left:1011.7px;top:339.53px;width:26.8px;height:18.29px"><span style="transform:translateY(0.75px) scaleX(0.93)">28</span></div>
<div class="dc" style="left:1038.5px;top:339.53px;width:27px;height:18.29px"><span style="transform:translateY(0.75px) scaleX(0.93)">54</span></div>
<div class="dc" style="left:584.75px;top:357.82px;width:62.95px;height:18.29px"><span style="transform:translateY(0.75px) scaleX(0.755)">XBDJE-42/260</span></div>
<div class="dc" style="left:647.7px;top:357.82px;width:39.3px;height:18.29px"><span style="transform:translateY(0.75px) scaleX(0.93)">42067</span></div>
<div class="dc" style="left:687px;top:357.82px;width:47.9px;height:18.29px"><span style="transform:translateY(0.75px) scaleX(0.89)">58.8</span></div>
<div class="dc" style="left:734.9px;top:357.82px;width:35.6px;height:18.29px"><span style="transform:translateY(0.75px) scaleX(0.93)">260</span></div>
<div class="dc" style="left:770.5px;top:357.82px;width:27.7px;height:18.29px"><span style="transform:translateY(0.75px) scaleX(0.93)">36000</span></div>
<div class="dc" style="left:798.2px;top:357.82px;width:22.2px;height:18.29px"><span style="transform:translateY(0.75px) scaleX(0.93)">3</span></div>
<div class="dc" style="left:820.4px;top:357.82px;width:24.2px;height:18.29px"><span style="transform:translateY(0.75px) scaleX(0.93)">710</span></div>
<div class="dc" style="left:844.6px;top:357.82px;width:29.8px;height:18.29px"><span style="transform:translateY(0.75px) scaleX(0.93)">25</span></div>
<div class="dc" style="left:874.4px;top:357.82px;width:27.8px;height:18.29px"><span style="transform:translateY(0.75px) scaleX(0.77)">3x1494</span></div>
<div class="dc" style="left:902.2px;top:357.82px;width:27.3px;height:18.29px"><span style="transform:translateY(0.75px) scaleX(0.77)">3x2.738</span></div>
<div class="dc" style="left:929.5px;top:357.82px;width:27.8px;height:18.29px"><span style="transform:translateY(0.75px) scaleX(0.77)">2200*10</span></div>
<div class="dc" style="left:957.3px;top:357.82px;width:27.3px;height:18.29px"><span style="transform:translateY(0.75px) scaleX(0.93)">2200</span></div>
<div class="dc" style="left:984.6px;top:357.82px;width:27.1px;height:18.29px"><span style="transform:translateY(0.75px) scaleX(0.93)">24200</span></div>
<div class="dc" style="left:1011.7px;top:357.82px;width:26.8px;height:18.29px"><span style="transform:translateY(0.75px) scaleX(0.93)">28</span></div>
<div class="dc" style="left:1038.5px;top:357.82px;width:27px;height:18.29px"><span style="transform:translateY(0.75px) scaleX(0.93)">54</span></div>
<div class="dc" style="left:584.75px;top:376.11px;width:62.95px;height:18.29px"><span style="transform:translateY(0.75px) scaleX(0.755)">XBDJE-49/300</span></div>
<div class="dc" style="left:647.7px;top:376.11px;width:39.3px;height:18.29px"><span style="transform:translateY(0.75px) scaleX(0.93)">49086</span></div>
<div class="dc" style="left:687px;top:376.11px;width:47.9px;height:18.29px"><span style="transform:translateY(0.75px) scaleX(0.89)">68.9</span></div>
<div class="dc" style="left:734.9px;top:376.11px;width:35.6px;height:18.29px"><span style="transform:translateY(0.75px) scaleX(0.93)">300</span></div>
<div class="dc" style="left:770.5px;top:376.11px;width:27.7px;height:18.29px"><span style="transform:translateY(0.75px) scaleX(0.93)">36000</span></div>
<div class="dc" style="left:798.2px;top:376.11px;width:22.2px;height:18.29px"><span style="transform:translateY(0.75px) scaleX(0.93)">3</span></div>
<div class="dc" style="left:820.4px;top:376.11px;width:24.2px;height:18.29px"><span style="transform:translateY(0.75px) scaleX(0.93)">710</span></div>
<div class="dc" style="left:844.6px;top:376.11px;width:29.8px;height:18.29px"><span style="transform:translateY(0.75px) scaleX(0.93)">25</span></div>
<div class="dc" style="left:874.4px;top:376.11px;width:27.8px;height:18.29px"><span style="transform:translateY(0.75px) scaleX(0.77)">3x1494</span></div>
<div class="dc" style="left:902.2px;top:376.11px;width:27.3px;height:18.29px"><span style="transform:translateY(0.75px) scaleX(0.77)">3x2.738</span></div>
<div class="dc" style="left:929.5px;top:376.11px;width:27.8px;height:18.29px"><span style="transform:translateY(0.75px) scaleX(0.77)">2050*11</span></div>
<div class="dc" style="left:957.3px;top:376.11px;width:27.3px;height:18.29px"><span style="transform:translateY(0.75px) scaleX(0.93)">2050</span></div>
<div class="dc" style="left:984.6px;top:376.11px;width:27.1px;height:18.29px"><span style="transform:translateY(0.75px) scaleX(0.93)">24600</span></div>
<div class="dc" style="left:1011.7px;top:376.11px;width:26.8px;height:18.29px"><span style="transform:translateY(0.75px) scaleX(0.93)">28</span></div>
<div class="dc" style="left:1038.5px;top:376.11px;width:27px;height:18.29px"><span style="transform:translateY(0.75px) scaleX(0.93)">54</span></div>
<svg style="position:absolute;left:0.8px;top:421.8px" width="9" height="9"><path d="M1 1.2 L6.2 4 L1 6.8 Z" fill="#aa111c" stroke="#aa111c" stroke-width="1.3" stroke-linejoin="round"/></svg>
<div class="note" style="left:17px;top:422.5px">Cooling capacity based on room temperature Tr=-18°C,ΔT=7°C;</div>
<svg style="position:absolute;left:584px;top:403.5px" width="9" height="9"><path d="M1 1.2 L6.2 4 L1 6.8 Z" fill="#aa111c" stroke="#aa111c" stroke-width="1.3" stroke-linejoin="round"/></svg>
<div class="note" style="left:601px;top:404.5px">Cooling capacity based on room temperature Tr=-25°C,ΔT=6°C;</div>
<svg width="1060" height="577" style="position:absolute;left:0;top:0">
<defs>
<clipPath id="fc"><circle cx="0" cy="0" r="32.6"/></clipPath>
<pattern id="mesh" width="2.6" height="2.6" patternUnits="userSpaceOnUse" patternTransform="rotate(45)"><rect width="2.6" height="2.6" fill="#e8e8e8"/><path d="M0 0H2.6M0 0V2.6" stroke="#a8a8a8" stroke-width="0.65"/></pattern>
<g id="fan">
<circle cx="0" cy="0" r="32.6" fill="url(#mesh)" stroke="#707070" stroke-width="0.9"/>
<g clip-path="url(#fc)" fill="none" stroke="#8f8f8f" stroke-width="0.55">
<circle cx="0" cy="0" r="29.5"/>
<circle cx="0" cy="0" r="26"/>
<circle cx="0" cy="0" r="22.5"/>
<circle cx="0" cy="0" r="19"/>
<circle cx="0" cy="0" r="15.5"/>
<circle cx="0" cy="0" r="12"/>
<circle cx="0" cy="0" r="8.5"/>
<line x1="-33" y1="-3" x2="33" y2="-3" stroke-width="0.6" stroke="#7a7a7a"/>
<line x1="-33" y1="0" x2="33" y2="0" stroke-width="0.6" stroke="#7a7a7a"/>
<line x1="-33" y1="3" x2="33" y2="3" stroke-width="0.6" stroke="#7a7a7a"/>
<line x1="0" y1="-33" x2="0" y2="33" stroke="#6c6c6c" stroke-width="0.9"/>
</g>
<path d="M1.0 -5.9 Q1.4 -20.0 -10.8 -29.6 A31.5 31.5 0 0 0 -23.4 -21.1 Q-12.9 -12.5 -2.8 -5.3 Z" fill="#d8d8d8" fill-opacity="0.35" stroke="#707070" stroke-width="0.75"/>
<path d="M5.9 -0.8 Q19.4 -4.8 24.8 -19.4 A31.5 31.5 0 0 0 12.8 -28.8 Q7.9 -16.2 4.2 -4.3 Z" fill="#d8d8d8" fill-opacity="0.35" stroke="#707070" stroke-width="0.75"/>
<path d="M2.6 5.4 Q10.6 17.0 26.1 17.6 A31.5 31.5 0 0 0 31.3 3.3 Q17.8 2.5 5.4 2.6 Z" fill="#d8d8d8" fill-opacity="0.35" stroke="#707070" stroke-width="0.75"/>
<path d="M-4.3 4.2 Q-12.9 15.3 -8.7 30.3 A31.5 31.5 0 0 0 6.5 30.8 Q3.1 17.7 -0.8 5.9 Z" fill="#d8d8d8" fill-opacity="0.35" stroke="#707070" stroke-width="0.75"/>
<path d="M-5.3 -2.8 Q-18.5 -7.5 -31.5 1.1 A31.5 31.5 0 0 0 -27.3 15.7 Q-15.9 8.5 -5.9 1.0 Z" fill="#d8d8d8" fill-opacity="0.35" stroke="#707070" stroke-width="0.75"/>
<g stroke="#8a8a8a" stroke-width="0.55" fill="none">
<line x1="-31" y1="-5" x2="31" y2="-5"/>
<line x1="-31" y1="-2.5" x2="31" y2="-2.5"/>
<line x1="-31" y1="2.5" x2="31" y2="2.5"/>
<line x1="-31" y1="5" x2="31" y2="5"/>
<line x1="-1.6" y1="-32" x2="-1.6" y2="32"/><line x1="1.6" y1="-32" x2="1.6" y2="32"/>
</g>
<line x1="6.0" y1="6.0" x2="24.5" y2="24.5" stroke="#7e7e7e" stroke-width="3"/>
<line x1="6.5" y1="6.5" x2="24.0" y2="24.0" stroke="#d2d2d2" stroke-width="1.4"/>
<circle cx="25.0" cy="25.0" r="1.9" fill="#c8c8c8" stroke="#777" stroke-width="0.7"/>
<line x1="6.0" y1="-6.0" x2="24.5" y2="-24.5" stroke="#7e7e7e" stroke-width="3"/>
<line x1="6.5" y1="-6.5" x2="24.0" y2="-24.0" stroke="#d2d2d2" stroke-width="1.4"/>
<circle cx="25.0" cy="-25.0" r="1.9" fill="#c8c8c8" stroke="#777" stroke-width="0.7"/>
<line x1="-6.0" y1="6.0" x2="-24.5" y2="24.5" stroke="#7e7e7e" stroke-width="3"/>
<line x1="-6.5" y1="6.5" x2="-24.0" y2="24.0" stroke="#d2d2d2" stroke-width="1.4"/>
<circle cx="-25.0" cy="25.0" r="1.9" fill="#c8c8c8" stroke="#777" stroke-width="0.7"/>
<line x1="-6.0" y1="-6.0" x2="-24.5" y2="-24.5" stroke="#7e7e7e" stroke-width="3"/>
<line x1="-6.5" y1="-6.5" x2="-24.0" y2="-24.0" stroke="#d2d2d2" stroke-width="1.4"/>
<circle cx="-25.0" cy="-25.0" r="1.9" fill="#c8c8c8" stroke="#777" stroke-width="0.7"/>
<rect x="-5.2" y="-4.6" width="10.4" height="9.2" rx="2.5" fill="#fff" stroke="#999" stroke-width="0.6"/>
<text x="0" y="1.5" font-family="Liberation Sans" font-size="3.8" font-weight="bold" text-anchor="middle" fill="#333">kdi</text>
</g>
<linearGradient id="hous" x1="0" y1="0" x2="0" y2="1"><stop offset="0" stop-color="#d6d6d6"/><stop offset="0.5" stop-color="#cacaca"/><stop offset="1" stop-color="#b4b4b4"/></linearGradient>
<linearGradient id="guard" x1="0" y1="0" x2="1" y2="0"><stop offset="0" stop-color="#c2c2c2"/><stop offset="1" stop-color="#d4d4d4"/></linearGradient>
</defs>
<g fill="none" stroke="#6f6f6f" stroke-width="1">
<rect x="25" y="488.5" width="295.8" height="74" fill="#fff" stroke="#999"/>
<line x1="25" y1="490.2" x2="320.8" y2="490.2" stroke="#dadada" stroke-width="0.8"/>
<line x1="26.8" y1="490" x2="26.8" y2="562" stroke="#e2e2e2" stroke-width="0.6"/>
<rect x="24.5" y="562" width="297" height="6.3" fill="#fff" stroke="#9a9a9a"/>
<line x1="24.5" y1="562.5" x2="321.5" y2="562.5" stroke="#555" stroke-width="1.6"/>
</g>
<rect x="41.2" y="487.5" width="5.6" height="11" fill="#fff" stroke="#666" stroke-width="0.9"/>
<rect x="43.4" y="490.5" width="1.2" height="1.2" fill="#777"/><rect x="43.4" y="494.5" width="1.2" height="1.2" fill="#777"/>
<rect x="43.3" y="512.3" width="1.4" height="1.4" fill="#888"/>
<rect x="43.3" y="532.3" width="1.4" height="1.4" fill="#888"/>
<rect x="43.3" y="551.9" width="1.4" height="1.4" fill="#888"/>
<rect x="42.0" y="562" width="4" height="2.2" fill="#666"/>
<rect x="130.2" y="487.5" width="5.6" height="11" fill="#fff" stroke="#666" stroke-width="0.9"/>
<rect x="132.4" y="490.5" width="1.2" height="1.2" fill="#777"/><rect x="132.4" y="494.5" width="1.2" height="1.2" fill="#777"/>
<rect x="132.3" y="512.3" width="1.4" height="1.4" fill="#888"/>
<rect x="132.3" y="532.3" width="1.4" height="1.4" fill="#888"/>
<rect x="132.3" y="551.9" width="1.4" height="1.4" fill="#888"/>
<rect x="131.0" y="562" width="4" height="2.2" fill="#666"/>
<rect x="215.2" y="487.5" width="5.6" height="11" fill="#fff" stroke="#666" stroke-width="0.9"/>
<rect x="217.4" y="490.5" width="1.2" height="1.2" fill="#777"/><rect x="217.4" y="494.5" width="1.2" height="1.2" fill="#777"/>
<rect x="217.3" y="512.3" width="1.4" height="1.4" fill="#888"/>
<rect x="217.3" y="532.3" width="1.4" height="1.4" fill="#888"/>
<rect x="217.3" y="551.9" width="1.4" height="1.4" fill="#888"/>
<rect x="216.0" y="562" width="4" height="2.2" fill="#666"/>
<rect x="299.2" y="487.5" width="5.6" height="11" fill="#fff" stroke="#666" stroke-width="0.9"/>
<rect x="301.4" y="490.5" width="1.2" height="1.2" fill="#777"/><rect x="301.4" y="494.5" width="1.2" height="1.2" fill="#777"/>
<rect x="301.3" y="512.3" width="1.4" height="1.4" fill="#888"/>
<rect x="301.3" y="532.3" width="1.4" height="1.4" fill="#888"/>
<rect x="301.3" y="551.9" width="1.4" height="1.4" fill="#888"/>
<rect x="300.0" y="562" width="4" height="2.2" fill="#666"/>
<use href="#fan" x="89" y="527"/>
<circle cx="117.5" cy="555.5" r="1.5" fill="none" stroke="#999" stroke-width="0.6"/>
<use href="#fan" x="175.5" y="527"/>
<circle cx="204.0" cy="555.5" r="1.5" fill="none" stroke="#999" stroke-width="0.6"/>
<use href="#fan" x="260" y="527"/>
<circle cx="288.5" cy="555.5" r="1.5" fill="none" stroke="#999" stroke-width="0.6"/>
<text x="313.1" y="498.2" font-family="Liberation Sans" font-size="4" font-weight="bold" fill="#333" text-anchor="middle" textLength="11.8" lengthAdjust="spacingAndGlyphs">XBDDEAir</text>
<rect x="302.7" y="517.3" width="17.3" height="11.7" fill="#fff" stroke="#aaa" stroke-width="0.6"/>
<circle cx="306.3" cy="520.6" r="1.2" fill="none" stroke="#555" stroke-width="0.6"/>
<circle cx="309.6" cy="520.6" r="1.2" fill="none" stroke="#555" stroke-width="0.6"/>
<circle cx="312.9" cy="520.6" r="1.2" fill="none" stroke="#555" stroke-width="0.6"/>
<circle cx="316.2" cy="520.6" r="1.2" fill="none" stroke="#555" stroke-width="0.6"/>
<text x="311.3" y="527.2" font-family="Liberation Sans" font-size="3.6" font-weight="bold" fill="#333" text-anchor="middle" textLength="11" lengthAdjust="spacingAndGlyphs">"4.8A"</text>
<rect x="305.2" y="543.5" width="13" height="8.8" fill="#fff" stroke="#aaa" stroke-width="0.6"/>
<text x="311.7" y="549.3" font-family="Liberation Sans" font-size="3.6" font-weight="bold" fill="#333" text-anchor="middle" textLength="6.5" lengthAdjust="spacingAndGlyphs">A A</text>
<rect x="170.5" y="568.3" width="5.5" height="6.5" fill="#fff" stroke="#999" stroke-width="0.8"/>
<g stroke="#6f6f6f" stroke-width="0.9" fill="#fff">
<path d="M449.7 494.3 H460 Q463.5 494.3 463.5 498 V555 Q463.5 558.8 460 558.8 H449.7 Z" fill="#cdcdcd" stroke="#8a8a8a"/>
<line x1="453.2" y1="495" x2="453.2" y2="558" stroke="#a9a9a9" stroke-width="0.6"/>
<line x1="456.8" y1="495" x2="456.8" y2="558" stroke="#a9a9a9" stroke-width="0.6"/>
<line x1="460.2" y1="495" x2="460.2" y2="558" stroke="#a9a9a9" stroke-width="0.6"/>
<line x1="450" y1="503.7" x2="463" y2="503.7" stroke="#7c7c7c" stroke-width="1"/>
<line x1="450" y1="526.7" x2="463" y2="526.7" stroke="#7c7c7c" stroke-width="1"/>
<line x1="450" y1="549.6" x2="463" y2="549.6" stroke="#7c7c7c" stroke-width="1"/>
<rect x="400.4" y="488.5" width="49.3" height="73.5" stroke="#7a7a7a"/>
<line x1="403.8" y1="489" x2="403.8" y2="562" stroke="#888"/>
<line x1="406.8" y1="489" x2="406.8" y2="562" stroke="#888"/>
<line x1="443.8" y1="489" x2="443.8" y2="562" stroke="#888"/>
<line x1="447" y1="489" x2="447" y2="562" stroke="#888"/>
<rect x="394.7" y="487.6" width="61.2" height="1.8"/>
<path d="M394.7 489.4 V497.6 H400.4" fill="none"/>
<path d="M455.9 489.4 V497.6 H449.7" fill="none"/>
<rect x="399.7" y="562" width="50" height="6.5"/>
<rect x="423.1" y="568.5" width="4.4" height="6.5"/>
<rect x="393.7" y="555.6" width="6.7" height="5.4"/>
</g>
<text x="425.8" y="515.4" font-family="Liberation Sans" font-size="5.4" font-weight="bold" text-anchor="middle" fill="#444" textLength="25.4" lengthAdjust="spacingAndGlyphs">XBDDEAir</text>
<path d="M685.5 550.6 H764.9 V563.5 Q764.9 566.3 762.4 566.3 H688.0 Q685.5 566.3 685.5 563.5 Z" fill="url(#hous)" stroke="#7a7a7a" stroke-width="0.8"/>
<line x1="686.5" y1="554.0" x2="763.9" y2="554.0" stroke="#e2e2e2" stroke-width="0.7"/>
<line x1="686.5" y1="557.5" x2="763.9" y2="557.5" stroke="#e2e2e2" stroke-width="0.7"/>
<line x1="686.5" y1="561.0" x2="763.9" y2="561.0" stroke="#e2e2e2" stroke-width="0.7"/>
<line x1="696.6" y1="551" x2="696.6" y2="566" stroke="#888" stroke-width="0.7"/>
<line x1="725.2" y1="551" x2="725.2" y2="566" stroke="#888" stroke-width="0.7"/>
<line x1="753.0" y1="551" x2="753.0" y2="566" stroke="#888" stroke-width="0.7"/>
<rect x="718.2" y="557.5" width="14" height="1.6" fill="#888"/>
<path d="M791.3 550.6 H870.0 V563.5 Q870.0 566.3 867.5 566.3 H793.8 Q791.3 566.3 791.3 563.5 Z" fill="url(#hous)" stroke="#7a7a7a" stroke-width="0.8"/>
<line x1="792.3" y1="554.0" x2="869.0" y2="554.0" stroke="#e2e2e2" stroke-width="0.7"/>
<line x1="792.3" y1="557.5" x2="869.0" y2="557.5" stroke="#e2e2e2" stroke-width="0.7"/>
<line x1="792.3" y1="561.0" x2="869.0" y2="561.0" stroke="#e2e2e2" stroke-width="0.7"/>
<line x1="802.3" y1="551" x2="802.3" y2="566" stroke="#888" stroke-width="0.7"/>
<line x1="830.6" y1="551" x2="830.6" y2="566" stroke="#888" stroke-width="0.7"/>
<line x1="858.2" y1="551" x2="858.2" y2="566" stroke="#888" stroke-width="0.7"/>
<rect x="823.6" y="557.5" width="14" height="1.6" fill="#888"/>
<path d="M894.0 550.6 H973.0 V563.5 Q973.0 566.3 970.5 566.3 H896.5 Q894.0 566.3 894.0 563.5 Z" fill="url(#hous)" stroke="#7a7a7a" stroke-width="0.8"/>
<line x1="895.0" y1="554.0" x2="972.0" y2="554.0" stroke="#e2e2e2" stroke-width="0.7"/>
<line x1="895.0" y1="557.5" x2="972.0" y2="557.5" stroke="#e2e2e2" stroke-width="0.7"/>
<line x1="895.0" y1="561.0" x2="972.0" y2="561.0" stroke="#e2e2e2" stroke-width="0.7"/>
<line x1="905.1" y1="551" x2="905.1" y2="566" stroke="#888" stroke-width="0.7"/>
<line x1="933.5" y1="551" x2="933.5" y2="566" stroke="#888" stroke-width="0.7"/>
<line x1="961.1" y1="551" x2="961.1" y2="566" stroke="#888" stroke-width="0.7"/>
<rect x="926.5" y="557.5" width="14" height="1.6" fill="#888"/>
<rect x="645.7" y="488.5" width="363.3" height="62.3" rx="1.5" fill="#fff" stroke="#5f5f5f" stroke-width="1.3"/>
<rect x="666.5" y="482.5" width="6.6" height="6.5" fill="#fff" stroke="#777" stroke-width="0.8"/>
<rect x="666.5" y="551" width="6.6" height="6.6" fill="#fff" stroke="#777" stroke-width="0.8"/>
<rect x="668.6" y="484.5" width="2.4" height="3" fill="none" stroke="#999" stroke-width="0.5"/>
<rect x="668.6" y="553" width="2.4" height="3" fill="none" stroke="#999" stroke-width="0.5"/>
<rect x="669.1" y="498.2" width="1.4" height="1.4" fill="#666"/>
<rect x="669.1" y="519.8" width="1.4" height="1.4" fill="#666"/>
<rect x="669.1" y="541.0" width="1.4" height="1.4" fill="#666"/>
<rect x="775.7" y="482.5" width="6.6" height="6.5" fill="#fff" stroke="#777" stroke-width="0.8"/>
<rect x="775.7" y="551" width="6.6" height="6.6" fill="#fff" stroke="#777" stroke-width="0.8"/>
<rect x="777.8" y="484.5" width="2.4" height="3" fill="none" stroke="#999" stroke-width="0.5"/>
<rect x="777.8" y="553" width="2.4" height="3" fill="none" stroke="#999" stroke-width="0.5"/>
<rect x="778.3" y="498.2" width="1.4" height="1.4" fill="#666"/>
<rect x="778.3" y="519.8" width="1.4" height="1.4" fill="#666"/>
<rect x="778.3" y="541.0" width="1.4" height="1.4" fill="#666"/>
<rect x="878.7" y="482.5" width="6.6" height="6.5" fill="#fff" stroke="#777" stroke-width="0.8"/>
<rect x="878.7" y="551" width="6.6" height="6.6" fill="#fff" stroke="#777" stroke-width="0.8"/>
<rect x="880.8" y="484.5" width="2.4" height="3" fill="none" stroke="#999" stroke-width="0.5"/>
<rect x="880.8" y="553" width="2.4" height="3" fill="none" stroke="#999" stroke-width="0.5"/>
<rect x="881.3" y="498.2" width="1.4" height="1.4" fill="#666"/>
<rect x="881.3" y="519.8" width="1.4" height="1.4" fill="#666"/>
<rect x="881.3" y="541.0" width="1.4" height="1.4" fill="#666"/>
<rect x="981.7" y="482.5" width="6.6" height="6.5" fill="#fff" stroke="#777" stroke-width="0.8"/>
<rect x="981.7" y="551" width="6.6" height="6.6" fill="#fff" stroke="#777" stroke-width="0.8"/>
<rect x="983.8" y="484.5" width="2.4" height="3" fill="none" stroke="#999" stroke-width="0.5"/>
<rect x="983.8" y="553" width="2.4" height="3" fill="none" stroke="#999" stroke-width="0.5"/>
<rect x="984.3" y="498.2" width="1.4" height="1.4" fill="#666"/>
<rect x="984.3" y="519.8" width="1.4" height="1.4" fill="#666"/>
<rect x="984.3" y="541.0" width="1.4" height="1.4" fill="#666"/>
<rect x="991.5" y="481.5" width="5.5" height="7" fill="#fff" stroke="#aaa" stroke-width="0.7"/>
<path d="M988.5 551 V557.5 H1007.5 V551" fill="none" stroke="#aaa" stroke-width="0.7"/>
</svg>
</div></body></html>
